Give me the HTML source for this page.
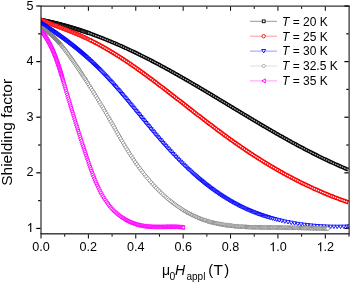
<!DOCTYPE html>
<html><head><meta charset="utf-8"><style>
html,body{margin:0;padding:0;background:#fff;}
svg{display:block;will-change:transform;font-family:"Liberation Sans",sans-serif;}
</style></head><body>
<svg width="350" height="283" viewBox="0 0 350 283">
<rect width="350" height="283" fill="#fff"/>
<defs><clipPath id="c"><rect x="41" y="6" width="308" height="228"/></clipPath></defs>
<g fill="#000"><rect x="40.50" y="234.3" width="1" height="4.2"/><rect x="64.19" y="234.3" width="1" height="2.3"/><rect x="64.19" y="6.6" width="1" height="2.3"/><rect x="87.88" y="234.3" width="1" height="4.2"/><rect x="87.88" y="6.6" width="1" height="4.2"/><rect x="111.58" y="234.3" width="1" height="2.3"/><rect x="111.58" y="6.6" width="1" height="2.3"/><rect x="135.27" y="234.3" width="1" height="4.2"/><rect x="135.27" y="6.6" width="1" height="4.2"/><rect x="158.96" y="234.3" width="1" height="2.3"/><rect x="158.96" y="6.6" width="1" height="2.3"/><rect x="182.65" y="234.3" width="1" height="4.2"/><rect x="182.65" y="6.6" width="1" height="4.2"/><rect x="206.35" y="234.3" width="1" height="2.3"/><rect x="206.35" y="6.6" width="1" height="2.3"/><rect x="230.04" y="234.3" width="1" height="4.2"/><rect x="230.04" y="6.6" width="1" height="4.2"/><rect x="253.73" y="234.3" width="1" height="2.3"/><rect x="253.73" y="6.6" width="1" height="2.3"/><rect x="277.42" y="234.3" width="1" height="4.2"/><rect x="277.42" y="6.6" width="1" height="4.2"/><rect x="301.12" y="234.3" width="1" height="2.3"/><rect x="301.12" y="6.6" width="1" height="2.3"/><rect x="324.81" y="234.3" width="1" height="4.2"/><rect x="324.81" y="6.6" width="1" height="4.2"/><rect x="348.50" y="234.3" width="1" height="2.3"/><rect x="36.30" y="227.84" width="4.2" height="1.2"/><rect x="344.40" y="227.84" width="4.2" height="1.2"/><rect x="38.20" y="200.03" width="2.3" height="1.2"/><rect x="346.30" y="200.03" width="2.3" height="1.2"/><rect x="36.30" y="172.23" width="4.2" height="1.2"/><rect x="344.40" y="172.23" width="4.2" height="1.2"/><rect x="38.20" y="144.42" width="2.3" height="1.2"/><rect x="346.30" y="144.42" width="2.3" height="1.2"/><rect x="36.30" y="116.62" width="4.2" height="1.2"/><rect x="344.40" y="116.62" width="4.2" height="1.2"/><rect x="38.20" y="88.81" width="2.3" height="1.2"/><rect x="346.30" y="88.81" width="2.3" height="1.2"/><rect x="36.30" y="61.01" width="4.2" height="1.2"/><rect x="344.40" y="61.01" width="4.2" height="1.2"/><rect x="38.20" y="33.20" width="2.3" height="1.2"/><rect x="346.30" y="33.20" width="2.3" height="1.2"/><rect x="36.30" y="5.40" width="4.2" height="1.2"/><rect x="344.40" y="5.40" width="4.2" height="1.2"/></g>
<g clip-path="url(#c)">
<g fill="#fff" stroke="#000" stroke-width="0.9"><rect x="39.27" y="18.46" width="2.80" height="2.80"/><rect x="39.86" y="18.58" width="2.80" height="2.80"/><rect x="40.45" y="18.70" width="2.80" height="2.80"/><rect x="41.04" y="18.82" width="2.80" height="2.80"/><rect x="41.64" y="18.94" width="2.80" height="2.80"/><rect x="42.24" y="19.06" width="2.80" height="2.80"/><rect x="42.84" y="19.18" width="2.80" height="2.80"/><rect x="43.44" y="19.31" width="2.80" height="2.80"/><rect x="44.05" y="19.44" width="2.80" height="2.80"/><rect x="44.66" y="19.57" width="2.80" height="2.80"/><rect x="45.27" y="19.70" width="2.80" height="2.80"/><rect x="45.89" y="19.83" width="2.80" height="2.80"/><rect x="46.50" y="19.97" width="2.80" height="2.80"/><rect x="47.12" y="20.10" width="2.80" height="2.80"/><rect x="47.75" y="20.24" width="2.80" height="2.80"/><rect x="48.37" y="20.38" width="2.80" height="2.80"/><rect x="49.00" y="20.53" width="2.80" height="2.80"/><rect x="49.63" y="20.67" width="2.80" height="2.80"/><rect x="50.27" y="20.82" width="2.80" height="2.80"/><rect x="50.91" y="20.97" width="2.80" height="2.80"/><rect x="51.55" y="21.12" width="2.80" height="2.80"/><rect x="52.19" y="21.27" width="2.80" height="2.80"/><rect x="52.84" y="21.42" width="2.80" height="2.80"/><rect x="53.48" y="21.58" width="2.80" height="2.80"/><rect x="54.14" y="21.74" width="2.80" height="2.80"/><rect x="54.79" y="21.90" width="2.80" height="2.80"/><rect x="55.45" y="22.07" width="2.80" height="2.80"/><rect x="56.11" y="22.23" width="2.80" height="2.80"/><rect x="56.77" y="22.40" width="2.80" height="2.80"/><rect x="57.44" y="22.57" width="2.80" height="2.80"/><rect x="58.11" y="22.74" width="2.80" height="2.80"/><rect x="58.78" y="22.92" width="2.80" height="2.80"/><rect x="59.46" y="23.09" width="2.80" height="2.80"/><rect x="60.14" y="23.27" width="2.80" height="2.80"/><rect x="60.82" y="23.45" width="2.80" height="2.80"/><rect x="61.50" y="23.64" width="2.80" height="2.80"/><rect x="62.19" y="23.82" width="2.80" height="2.80"/><rect x="62.88" y="24.01" width="2.80" height="2.80"/><rect x="63.58" y="24.20" width="2.80" height="2.80"/><rect x="64.27" y="24.40" width="2.80" height="2.80"/><rect x="64.97" y="24.59" width="2.80" height="2.80"/><rect x="65.67" y="24.79" width="2.80" height="2.80"/><rect x="66.38" y="24.99" width="2.80" height="2.80"/><rect x="67.09" y="25.19" width="2.80" height="2.80"/><rect x="67.80" y="25.40" width="2.80" height="2.80"/><rect x="68.52" y="25.61" width="2.80" height="2.80"/><rect x="69.23" y="25.82" width="2.80" height="2.80"/><rect x="69.96" y="26.03" width="2.80" height="2.80"/><rect x="70.68" y="26.25" width="2.80" height="2.80"/><rect x="71.41" y="26.46" width="2.80" height="2.80"/><rect x="72.14" y="26.69" width="2.80" height="2.80"/><rect x="72.87" y="26.91" width="2.80" height="2.80"/><rect x="73.61" y="27.14" width="2.80" height="2.80"/><rect x="74.35" y="27.36" width="2.80" height="2.80"/><rect x="75.09" y="27.60" width="2.80" height="2.80"/><rect x="75.84" y="27.83" width="2.80" height="2.80"/><rect x="76.59" y="28.07" width="2.80" height="2.80"/><rect x="77.34" y="28.31" width="2.80" height="2.80"/><rect x="78.09" y="28.55" width="2.80" height="2.80"/><rect x="78.85" y="28.80" width="2.80" height="2.80"/><rect x="79.62" y="29.05" width="2.80" height="2.80"/><rect x="80.41" y="29.31" width="2.80" height="2.80"/><rect x="81.22" y="29.58" width="2.80" height="2.80"/><rect x="82.05" y="29.85" width="2.80" height="2.80"/><rect x="82.91" y="30.14" width="2.80" height="2.80"/><rect x="83.79" y="30.44" width="2.80" height="2.80"/><rect x="84.69" y="30.75" width="2.80" height="2.80"/><rect x="85.62" y="31.07" width="2.80" height="2.80"/><rect x="86.58" y="31.40" width="2.80" height="2.80"/><rect x="87.56" y="31.75" width="2.80" height="2.80"/></g>
<path d="M88.02 32.82 L89.11 33.20 L90.19 33.58 L91.26 33.97 L92.34 34.36 L93.42 34.75 L94.49 35.15 L95.57 35.54 L96.64 35.95 L97.71 36.35 L98.78 36.76 L99.85 37.17 L100.91 37.58 L101.98 37.99 L103.04 38.41 L104.11 38.83 L105.17 39.26 L106.23 39.69 L107.29 40.11 L108.34 40.55 L109.40 40.98 L110.46 41.42 L111.51 41.86 L112.56 42.30 L113.62 42.75 L114.67 43.20 L115.72 43.65 L116.76 44.10 L117.81 44.56 L118.86 45.01 L119.90 45.48 L120.95 45.94 L121.99 46.40 L123.03 46.87 L124.07 47.34 L125.11 47.82 L126.15 48.29 L127.19 48.77 L128.22 49.25 L129.26 49.73 L130.29 50.21 L131.33 50.70 L132.36 51.19 L133.39 51.68 L134.42 52.17 L135.45 52.67 L136.48 53.17 L137.51 53.66 L138.53 54.17 L139.56 54.67 L140.58 55.18 L141.61 55.68 L142.63 56.19 L143.65 56.70 L144.67 57.22 L145.70 57.73 L146.71 58.25 L147.73 58.77 L148.75 59.29 L149.77 59.81 L150.78 60.34 L151.80 60.86 L152.81 61.39 L153.83 61.92 L154.84 62.45 L155.85 62.99 L156.86 63.52 L157.88 64.06 L158.89 64.59 L159.89 65.13 L160.90 65.68 L161.91 66.22 L162.92 66.76 L163.93 67.31 L164.93 67.86 L165.94 68.40 L166.94 68.96 L167.94 69.51 L168.95 70.06 L169.95 70.61 L170.95 71.17 L171.95 71.73 L172.95 72.29 L173.95 72.85 L174.95 73.41 L175.95 73.97 L176.95 74.53 L177.95 75.10 L178.95 75.66 L179.94 76.23 L180.94 76.80 L181.94 77.37 L182.93 77.94 L183.93 78.51 L184.92 79.08 L185.92 79.65 L186.91 80.23 L187.90 80.80 L188.90 81.38 L189.89 81.96 L190.88 82.53 L191.87 83.11 L192.86 83.69 L193.85 84.27 L194.84 84.86 L195.83 85.44 L196.82 86.02 L197.81 86.60 L198.80 87.19 L199.79 87.77 L200.78 88.36 L201.77 88.95 L202.76 89.53 L203.74 90.12 L204.73 90.71 L205.72 91.30 L206.70 91.89 L207.69 92.48 L208.68 93.07 L209.66 93.66 L210.65 94.25 L211.64 94.84 L212.62 95.43 L213.61 96.03 L214.59 96.62 L215.58 97.21 L216.56 97.81 L217.55 98.40 L218.53 98.99 L219.52 99.59 L220.50 100.18 L221.49 100.78 L222.47 101.37 L223.45 101.97 L224.44 102.56 L225.42 103.16 L226.41 103.76 L227.39 104.35 L228.37 104.95 L229.36 105.54 L230.34 106.14 L231.33 106.73 L232.31 107.33 L233.29 107.92 L234.28 108.52 L235.26 109.12 L236.25 109.71 L237.23 110.31 L238.22 110.90 L239.20 111.50 L240.19 112.09 L241.17 112.68 L242.15 113.28 L243.14 113.87 L244.13 114.46 L245.11 115.06 L246.10 115.65 L247.08 116.24 L248.07 116.83 L249.05 117.43 L250.04 118.02 L251.03 118.61 L252.01 119.20 L253.00 119.79 L253.99 120.38 L254.97 120.96 L255.96 121.55 L256.95 122.14 L257.94 122.73 L258.93 123.31 L259.91 123.90 L260.90 124.48 L261.89 125.07 L262.88 125.65 L263.87 126.23 L264.86 126.81 L265.85 127.39 L266.85 127.97 L267.84 128.55 L268.83 129.13 L269.82 129.71 L270.81 130.28 L271.81 130.86 L272.80 131.43 L273.80 132.01 L274.79 132.58 L275.79 133.15 L276.78 133.72 L277.78 134.29 L278.77 134.86 L279.77 135.43 L280.77 135.99 L281.77 136.56 L282.77 137.12 L283.76 137.68 L284.76 138.24 L285.76 138.80 L286.77 139.36 L287.77 139.92 L288.77 140.48 L289.77 141.03 L290.78 141.58 L291.78 142.14 L292.78 142.69 L293.79 143.23 L294.80 143.78 L295.80 144.33 L296.81 144.87 L297.82 145.42 L298.83 145.96 L299.84 146.50 L300.85 147.04 L301.86 147.57 L302.87 148.11 L303.88 148.64 L304.89 149.17 L305.91 149.70 L306.92 150.23 L307.94 150.76 L308.95 151.28 L309.97 151.81 L310.99 152.33 L312.01 152.85 L313.03 153.36 L314.05 153.88 L315.07 154.39 L316.09 154.90 L317.11 155.41 L318.14 155.92 L319.16 156.43 L320.19 156.93 L321.22 157.43 L322.24 157.93 L323.27 158.43 L324.30 158.93 L325.33 159.42 L326.36 159.91 L327.40 160.40 L328.43 160.89 L329.46 161.37 L330.50 161.85 L331.54 162.33 L332.57 162.81 L333.61 163.29 L334.65 163.76 L335.69 164.23 L336.74 164.70 L337.78 165.16 L338.82 165.63 L339.87 166.09 L340.91 166.55 L341.96 167.00 L343.01 167.46 L344.06 167.91 L345.11 168.36 L346.16 168.80 L347.22 169.25 L348.27 169.69" fill="none" stroke="#000" stroke-width="4.0"/>
<path d="M88.02 32.82 L89.11 33.20 L90.19 33.58 L91.26 33.97 L92.34 34.36 L93.42 34.75 L94.49 35.15 L95.57 35.54 L96.64 35.95 L97.71 36.35 L98.78 36.76 L99.85 37.17 L100.91 37.58 L101.98 37.99 L103.04 38.41 L104.11 38.83 L105.17 39.26 L106.23 39.69 L107.29 40.11 L108.34 40.55 L109.40 40.98 L110.46 41.42 L111.51 41.86 L112.56 42.30 L113.62 42.75 L114.67 43.20 L115.72 43.65 L116.76 44.10 L117.81 44.56 L118.86 45.01 L119.90 45.48 L120.95 45.94 L121.99 46.40 L123.03 46.87 L124.07 47.34 L125.11 47.82 L126.15 48.29 L127.19 48.77 L128.22 49.25 L129.26 49.73 L130.29 50.21 L131.33 50.70 L132.36 51.19 L133.39 51.68 L134.42 52.17 L135.45 52.67 L136.48 53.17 L137.51 53.66 L138.53 54.17 L139.56 54.67 L140.58 55.18 L141.61 55.68 L142.63 56.19 L143.65 56.70 L144.67 57.22 L145.70 57.73 L146.71 58.25 L147.73 58.77 L148.75 59.29 L149.77 59.81 L150.78 60.34 L151.80 60.86 L152.81 61.39 L153.83 61.92 L154.84 62.45 L155.85 62.99 L156.86 63.52 L157.88 64.06 L158.89 64.59 L159.89 65.13 L160.90 65.68 L161.91 66.22 L162.92 66.76 L163.93 67.31 L164.93 67.86 L165.94 68.40 L166.94 68.96 L167.94 69.51 L168.95 70.06 L169.95 70.61 L170.95 71.17 L171.95 71.73 L172.95 72.29 L173.95 72.85 L174.95 73.41 L175.95 73.97 L176.95 74.53 L177.95 75.10 L178.95 75.66 L179.94 76.23 L180.94 76.80 L181.94 77.37 L182.93 77.94 L183.93 78.51 L184.92 79.08 L185.92 79.65 L186.91 80.23 L187.90 80.80 L188.90 81.38 L189.89 81.96 L190.88 82.53 L191.87 83.11 L192.86 83.69 L193.85 84.27 L194.84 84.86 L195.83 85.44 L196.82 86.02 L197.81 86.60 L198.80 87.19 L199.79 87.77 L200.78 88.36 L201.77 88.95 L202.76 89.53 L203.74 90.12 L204.73 90.71 L205.72 91.30 L206.70 91.89 L207.69 92.48 L208.68 93.07 L209.66 93.66 L210.65 94.25 L211.64 94.84 L212.62 95.43 L213.61 96.03 L214.59 96.62 L215.58 97.21 L216.56 97.81 L217.55 98.40 L218.53 98.99 L219.52 99.59 L220.50 100.18 L221.49 100.78 L222.47 101.37 L223.45 101.97 L224.44 102.56 L225.42 103.16 L226.41 103.76 L227.39 104.35 L228.37 104.95 L229.36 105.54 L230.34 106.14 L231.33 106.73 L232.31 107.33 L233.29 107.92 L234.28 108.52 L235.26 109.12 L236.25 109.71 L237.23 110.31 L238.22 110.90 L239.20 111.50 L240.19 112.09 L241.17 112.68 L242.15 113.28 L243.14 113.87 L244.13 114.46 L245.11 115.06 L246.10 115.65 L247.08 116.24 L248.07 116.83 L249.05 117.43 L250.04 118.02 L251.03 118.61 L252.01 119.20 L253.00 119.79 L253.99 120.38 L254.97 120.96 L255.96 121.55 L256.95 122.14 L257.94 122.73 L258.93 123.31 L259.91 123.90 L260.90 124.48 L261.89 125.07 L262.88 125.65 L263.87 126.23 L264.86 126.81 L265.85 127.39 L266.85 127.97 L267.84 128.55 L268.83 129.13 L269.82 129.71 L270.81 130.28 L271.81 130.86 L272.80 131.43 L273.80 132.01 L274.79 132.58 L275.79 133.15 L276.78 133.72 L277.78 134.29 L278.77 134.86 L279.77 135.43 L280.77 135.99 L281.77 136.56 L282.77 137.12 L283.76 137.68 L284.76 138.24 L285.76 138.80 L286.77 139.36 L287.77 139.92 L288.77 140.48 L289.77 141.03 L290.78 141.58 L291.78 142.14 L292.78 142.69 L293.79 143.23 L294.80 143.78 L295.80 144.33 L296.81 144.87 L297.82 145.42 L298.83 145.96 L299.84 146.50 L300.85 147.04 L301.86 147.57 L302.87 148.11 L303.88 148.64 L304.89 149.17 L305.91 149.70 L306.92 150.23 L307.94 150.76 L308.95 151.28 L309.97 151.81 L310.99 152.33 L312.01 152.85 L313.03 153.36 L314.05 153.88 L315.07 154.39 L316.09 154.90 L317.11 155.41 L318.14 155.92 L319.16 156.43 L320.19 156.93 L321.22 157.43 L322.24 157.93 L323.27 158.43 L324.30 158.93 L325.33 159.42 L326.36 159.91 L327.40 160.40 L328.43 160.89 L329.46 161.37 L330.50 161.85 L331.54 162.33 L332.57 162.81 L333.61 163.29 L334.65 163.76 L335.69 164.23 L336.74 164.70 L337.78 165.16 L338.82 165.63 L339.87 166.09 L340.91 166.55 L341.96 167.00 L343.01 167.46 L344.06 167.91 L345.11 168.36 L346.16 168.80 L347.22 169.25 L348.27 169.69" fill="none" stroke="#b0b0b0" stroke-width="1.3" stroke-dasharray="1.6 0.9"/>
<g fill="#fff" stroke="#f00" stroke-width="0.9"><circle cx="40.70" cy="19.62" r="1.70"/><circle cx="41.25" cy="19.86" r="1.70"/><circle cx="41.80" cy="20.10" r="1.70"/><circle cx="42.36" cy="20.34" r="1.70"/><circle cx="42.91" cy="20.59" r="1.70"/><circle cx="43.47" cy="20.83" r="1.70"/><circle cx="44.03" cy="21.07" r="1.70"/><circle cx="44.60" cy="21.31" r="1.70"/><circle cx="45.17" cy="21.54" r="1.70"/><circle cx="45.74" cy="21.78" r="1.70"/><circle cx="46.31" cy="22.02" r="1.70"/><circle cx="46.89" cy="22.26" r="1.70"/><circle cx="47.47" cy="22.50" r="1.70"/><circle cx="48.05" cy="22.74" r="1.70"/><circle cx="48.64" cy="22.97" r="1.70"/><circle cx="49.22" cy="23.21" r="1.70"/><circle cx="49.82" cy="23.45" r="1.70"/><circle cx="50.41" cy="23.69" r="1.70"/><circle cx="51.01" cy="23.92" r="1.70"/><circle cx="51.61" cy="24.16" r="1.70"/><circle cx="52.21" cy="24.40" r="1.70"/><circle cx="52.82" cy="24.64" r="1.70"/><circle cx="53.43" cy="24.88" r="1.70"/><circle cx="54.04" cy="25.11" r="1.70"/><circle cx="54.65" cy="25.35" r="1.70"/><circle cx="55.27" cy="25.59" r="1.70"/><circle cx="55.89" cy="25.83" r="1.70"/><circle cx="56.51" cy="26.07" r="1.70"/><circle cx="57.14" cy="26.31" r="1.70"/><circle cx="57.77" cy="26.55" r="1.70"/><circle cx="58.40" cy="26.80" r="1.70"/><circle cx="59.03" cy="27.04" r="1.70"/><circle cx="59.67" cy="27.28" r="1.70"/><circle cx="60.31" cy="27.53" r="1.70"/><circle cx="60.95" cy="27.77" r="1.70"/><circle cx="61.60" cy="28.02" r="1.70"/><circle cx="62.24" cy="28.27" r="1.70"/><circle cx="62.89" cy="28.52" r="1.70"/><circle cx="63.55" cy="28.77" r="1.70"/><circle cx="64.20" cy="29.02" r="1.70"/><circle cx="64.86" cy="29.27" r="1.70"/><circle cx="65.52" cy="29.52" r="1.70"/><circle cx="66.19" cy="29.78" r="1.70"/><circle cx="66.85" cy="30.04" r="1.70"/><circle cx="67.52" cy="30.30" r="1.70"/><circle cx="68.19" cy="30.56" r="1.70"/><circle cx="68.87" cy="30.82" r="1.70"/><circle cx="69.55" cy="31.09" r="1.70"/><circle cx="70.22" cy="31.35" r="1.70"/><circle cx="70.91" cy="31.62" r="1.70"/><circle cx="71.59" cy="31.89" r="1.70"/><circle cx="72.28" cy="32.17" r="1.70"/><circle cx="72.96" cy="32.45" r="1.70"/><circle cx="73.66" cy="32.72" r="1.70"/><circle cx="74.35" cy="33.01" r="1.70"/><circle cx="75.04" cy="33.29" r="1.70"/><circle cx="75.74" cy="33.58" r="1.70"/><circle cx="76.44" cy="33.87" r="1.70"/><circle cx="77.14" cy="34.16" r="1.70"/><circle cx="77.85" cy="34.46" r="1.70"/><circle cx="78.56" cy="34.76" r="1.70"/><circle cx="79.26" cy="35.06" r="1.70"/><circle cx="79.97" cy="35.37" r="1.70"/><circle cx="80.69" cy="35.68" r="1.70"/><circle cx="81.40" cy="36.00" r="1.70"/><circle cx="82.12" cy="36.32" r="1.70"/><circle cx="82.83" cy="36.64" r="1.70"/><circle cx="83.55" cy="36.97" r="1.70"/><circle cx="84.27" cy="37.30" r="1.70"/><circle cx="85.00" cy="37.63" r="1.70"/><circle cx="85.72" cy="37.97" r="1.70"/><circle cx="86.49" cy="38.33" r="1.70"/><circle cx="87.29" cy="38.71" r="1.70"/><circle cx="88.13" cy="39.11" r="1.70"/><circle cx="89.02" cy="39.54" r="1.70"/><circle cx="89.96" cy="40.00" r="1.70"/><circle cx="90.94" cy="40.49" r="1.70"/></g>
<path d="M90.02 40.03 L91.10 40.56 L92.17 41.10 L93.24 41.64 L94.30 42.19 L95.36 42.74 L96.42 43.29 L97.48 43.85 L98.54 44.42 L99.59 44.99 L100.64 45.56 L101.69 46.14 L102.74 46.72 L103.78 47.31 L104.82 47.90 L105.86 48.49 L106.90 49.09 L107.93 49.70 L108.96 50.31 L109.99 50.92 L111.02 51.53 L112.05 52.15 L113.07 52.78 L114.10 53.40 L115.12 54.03 L116.13 54.67 L117.15 55.31 L118.17 55.95 L119.18 56.59 L120.19 57.24 L121.20 57.89 L122.20 58.54 L123.21 59.20 L124.21 59.86 L125.22 60.53 L126.22 61.19 L127.21 61.86 L128.21 62.53 L129.21 63.21 L130.20 63.89 L131.19 64.57 L132.18 65.25 L133.17 65.94 L134.16 66.62 L135.15 67.31 L136.13 68.01 L137.11 68.70 L138.10 69.40 L139.08 70.10 L140.06 70.80 L141.04 71.50 L142.01 72.21 L142.99 72.91 L143.96 73.62 L144.94 74.33 L145.91 75.05 L146.88 75.76 L147.85 76.48 L148.82 77.19 L149.79 77.91 L150.75 78.63 L151.72 79.35 L152.68 80.08 L153.65 80.80 L154.61 81.53 L155.57 82.25 L156.54 82.98 L157.50 83.71 L158.46 84.44 L159.42 85.17 L160.38 85.90 L161.33 86.63 L162.29 87.36 L163.25 88.09 L164.20 88.82 L165.16 89.56 L166.11 90.29 L167.07 91.03 L168.02 91.76 L168.97 92.50 L169.93 93.24 L170.88 93.97 L171.83 94.71 L172.78 95.45 L173.73 96.18 L174.69 96.92 L175.64 97.66 L176.59 98.40 L177.54 99.14 L178.49 99.88 L179.44 100.62 L180.38 101.35 L181.33 102.09 L182.28 102.83 L183.23 103.57 L184.18 104.31 L185.13 105.05 L186.08 105.79 L187.03 106.53 L187.98 107.27 L188.92 108.01 L189.87 108.74 L190.82 109.48 L191.77 110.22 L192.72 110.96 L193.67 111.69 L194.62 112.43 L195.57 113.17 L196.52 113.90 L197.47 114.64 L198.42 115.37 L199.37 116.11 L200.32 116.84 L201.27 117.58 L202.23 118.31 L203.18 119.04 L204.13 119.77 L205.08 120.50 L206.04 121.23 L206.99 121.96 L207.95 122.69 L208.90 123.42 L209.86 124.15 L210.81 124.87 L211.77 125.60 L212.73 126.32 L213.69 127.04 L214.65 127.77 L215.61 128.49 L216.57 129.21 L217.53 129.93 L218.49 130.64 L219.46 131.36 L220.42 132.08 L221.38 132.79 L222.35 133.50 L223.32 134.21 L224.28 134.92 L225.25 135.63 L226.22 136.34 L227.19 137.05 L228.17 137.75 L229.14 138.46 L230.11 139.16 L231.09 139.86 L232.06 140.56 L233.04 141.25 L234.02 141.95 L235.00 142.64 L235.98 143.33 L236.96 144.03 L237.95 144.71 L238.93 145.40 L239.92 146.09 L240.91 146.77 L241.90 147.45 L242.89 148.13 L243.88 148.81 L244.87 149.48 L245.87 150.16 L246.87 150.83 L247.86 151.50 L248.86 152.16 L249.87 152.83 L250.87 153.49 L251.87 154.15 L252.88 154.81 L253.89 155.47 L254.90 156.12 L255.91 156.78 L256.92 157.43 L257.94 158.07 L258.95 158.72 L259.97 159.36 L260.99 160.00 L262.01 160.64 L263.03 161.28 L264.06 161.91 L265.08 162.54 L266.11 163.17 L267.14 163.80 L268.17 164.42 L269.20 165.04 L270.24 165.66 L271.27 166.28 L272.31 166.89 L273.35 167.50 L274.39 168.11 L275.43 168.71 L276.47 169.32 L277.52 169.92 L278.56 170.52 L279.61 171.11 L280.66 171.70 L281.71 172.29 L282.76 172.88 L283.81 173.46 L284.87 174.05 L285.93 174.63 L286.98 175.20 L288.04 175.77 L289.10 176.34 L290.17 176.91 L291.23 177.48 L292.30 178.04 L293.36 178.60 L294.43 179.15 L295.50 179.70 L296.57 180.25 L297.64 180.80 L298.72 181.34 L299.79 181.88 L300.87 182.42 L301.95 182.96 L303.03 183.49 L304.11 184.02 L305.19 184.54 L306.28 185.06 L307.36 185.58 L308.45 186.10 L309.54 186.61 L310.63 187.12 L311.72 187.62 L312.81 188.13 L313.91 188.63 L315.00 189.12 L316.10 189.61 L317.19 190.10 L318.29 190.59 L319.39 191.07 L320.50 191.55 L321.60 192.03 L322.71 192.50 L323.81 192.97 L324.92 193.43 L326.03 193.89 L327.14 194.35 L328.25 194.81 L329.36 195.26 L330.48 195.70 L331.59 196.15 L332.71 196.59 L333.83 197.02 L334.94 197.46 L336.07 197.89 L337.19 198.31 L338.31 198.73 L339.43 199.15 L340.56 199.57 L341.69 199.98 L342.82 200.38 L343.95 200.79 L345.08 201.18 L346.21 201.58 L347.34 201.97 L348.48 202.36" fill="none" stroke="#f00" stroke-width="4.4"/>
<path d="M90.02 40.03 L91.10 40.56 L92.17 41.10 L93.24 41.64 L94.30 42.19 L95.36 42.74 L96.42 43.29 L97.48 43.85 L98.54 44.42 L99.59 44.99 L100.64 45.56 L101.69 46.14 L102.74 46.72 L103.78 47.31 L104.82 47.90 L105.86 48.49 L106.90 49.09 L107.93 49.70 L108.96 50.31 L109.99 50.92 L111.02 51.53 L112.05 52.15 L113.07 52.78 L114.10 53.40 L115.12 54.03 L116.13 54.67 L117.15 55.31 L118.17 55.95 L119.18 56.59 L120.19 57.24 L121.20 57.89 L122.20 58.54 L123.21 59.20 L124.21 59.86 L125.22 60.53 L126.22 61.19 L127.21 61.86 L128.21 62.53 L129.21 63.21 L130.20 63.89 L131.19 64.57 L132.18 65.25 L133.17 65.94 L134.16 66.62 L135.15 67.31 L136.13 68.01 L137.11 68.70 L138.10 69.40 L139.08 70.10 L140.06 70.80 L141.04 71.50 L142.01 72.21 L142.99 72.91 L143.96 73.62 L144.94 74.33 L145.91 75.05 L146.88 75.76 L147.85 76.48 L148.82 77.19 L149.79 77.91 L150.75 78.63 L151.72 79.35 L152.68 80.08 L153.65 80.80 L154.61 81.53 L155.57 82.25 L156.54 82.98 L157.50 83.71 L158.46 84.44 L159.42 85.17 L160.38 85.90 L161.33 86.63 L162.29 87.36 L163.25 88.09 L164.20 88.82 L165.16 89.56 L166.11 90.29 L167.07 91.03 L168.02 91.76 L168.97 92.50 L169.93 93.24 L170.88 93.97 L171.83 94.71 L172.78 95.45 L173.73 96.18 L174.69 96.92 L175.64 97.66 L176.59 98.40 L177.54 99.14 L178.49 99.88 L179.44 100.62 L180.38 101.35 L181.33 102.09 L182.28 102.83 L183.23 103.57 L184.18 104.31 L185.13 105.05 L186.08 105.79 L187.03 106.53 L187.98 107.27 L188.92 108.01 L189.87 108.74 L190.82 109.48 L191.77 110.22 L192.72 110.96 L193.67 111.69 L194.62 112.43 L195.57 113.17 L196.52 113.90 L197.47 114.64 L198.42 115.37 L199.37 116.11 L200.32 116.84 L201.27 117.58 L202.23 118.31 L203.18 119.04 L204.13 119.77 L205.08 120.50 L206.04 121.23 L206.99 121.96 L207.95 122.69 L208.90 123.42 L209.86 124.15 L210.81 124.87 L211.77 125.60 L212.73 126.32 L213.69 127.04 L214.65 127.77 L215.61 128.49 L216.57 129.21 L217.53 129.93 L218.49 130.64 L219.46 131.36 L220.42 132.08 L221.38 132.79 L222.35 133.50 L223.32 134.21 L224.28 134.92 L225.25 135.63 L226.22 136.34 L227.19 137.05 L228.17 137.75 L229.14 138.46 L230.11 139.16 L231.09 139.86 L232.06 140.56 L233.04 141.25 L234.02 141.95 L235.00 142.64 L235.98 143.33 L236.96 144.03 L237.95 144.71 L238.93 145.40 L239.92 146.09 L240.91 146.77 L241.90 147.45 L242.89 148.13 L243.88 148.81 L244.87 149.48 L245.87 150.16 L246.87 150.83 L247.86 151.50 L248.86 152.16 L249.87 152.83 L250.87 153.49 L251.87 154.15 L252.88 154.81 L253.89 155.47 L254.90 156.12 L255.91 156.78 L256.92 157.43 L257.94 158.07 L258.95 158.72 L259.97 159.36 L260.99 160.00 L262.01 160.64 L263.03 161.28 L264.06 161.91 L265.08 162.54 L266.11 163.17 L267.14 163.80 L268.17 164.42 L269.20 165.04 L270.24 165.66 L271.27 166.28 L272.31 166.89 L273.35 167.50 L274.39 168.11 L275.43 168.71 L276.47 169.32 L277.52 169.92 L278.56 170.52 L279.61 171.11 L280.66 171.70 L281.71 172.29 L282.76 172.88 L283.81 173.46 L284.87 174.05 L285.93 174.63 L286.98 175.20 L288.04 175.77 L289.10 176.34 L290.17 176.91 L291.23 177.48 L292.30 178.04 L293.36 178.60 L294.43 179.15 L295.50 179.70 L296.57 180.25 L297.64 180.80 L298.72 181.34 L299.79 181.88 L300.87 182.42 L301.95 182.96 L303.03 183.49 L304.11 184.02 L305.19 184.54 L306.28 185.06 L307.36 185.58 L308.45 186.10 L309.54 186.61 L310.63 187.12 L311.72 187.62 L312.81 188.13 L313.91 188.63 L315.00 189.12 L316.10 189.61 L317.19 190.10 L318.29 190.59 L319.39 191.07 L320.50 191.55 L321.60 192.03 L322.71 192.50 L323.81 192.97 L324.92 193.43 L326.03 193.89 L327.14 194.35 L328.25 194.81 L329.36 195.26 L330.48 195.70 L331.59 196.15 L332.71 196.59 L333.83 197.02 L334.94 197.46 L336.07 197.89 L337.19 198.31 L338.31 198.73 L339.43 199.15 L340.56 199.57 L341.69 199.98 L342.82 200.38 L343.95 200.79 L345.08 201.18 L346.21 201.58 L347.34 201.97 L348.48 202.36" fill="none" stroke="#fff" stroke-width="1.3" stroke-dasharray="1.5 0.8"/>
<g fill="#fff" stroke="#00f" stroke-width="0.9">
<path d="M38.41 21.62H42.41L40.41 25.02Z"/>
<path d="M38.91 21.94H42.91L40.91 25.34Z"/>
<path d="M39.42 22.26H43.42L41.42 25.66Z"/>
<path d="M39.93 22.58H43.93L41.93 25.98Z"/>
<path d="M40.44 22.90H44.44L42.44 26.30Z"/>
<path d="M40.96 23.23H44.96L42.96 26.63Z"/>
<path d="M41.47 23.55H45.47L43.47 26.95Z"/>
<path d="M41.98 23.88H45.98L43.98 27.28Z"/>
<path d="M42.50 24.21H46.50L44.50 27.61Z"/>
<path d="M43.02 24.55H47.02L45.02 27.95Z"/>
<path d="M43.54 24.88H47.54L45.54 28.28Z"/>
<path d="M44.06 25.22H48.06L46.06 28.62Z"/>
<path d="M44.58 25.56H48.58L46.58 28.96Z"/>
<path d="M45.11 25.90H49.11L47.11 29.30Z"/>
<path d="M45.63 26.25H49.63L47.63 29.65Z"/>
<path d="M46.16 26.59H50.16L48.16 29.99Z"/>
<path d="M46.69 26.94H50.69L48.69 30.34Z"/>
<path d="M47.21 27.29H51.21L49.21 30.69Z"/>
<path d="M47.75 27.64H51.75L49.75 31.04Z"/>
<path d="M48.28 28.00H52.28L50.28 31.40Z"/>
<path d="M48.81 28.35H52.81L50.81 31.75Z"/>
<path d="M49.35 28.71H53.35L51.35 32.11Z"/>
<path d="M49.88 29.08H53.88L51.88 32.48Z"/>
<path d="M50.42 29.44H54.42L52.42 32.84Z"/>
<path d="M50.96 29.81H54.96L52.96 33.21Z"/>
<path d="M51.50 30.18H55.50L53.50 33.58Z"/>
<path d="M52.04 30.55H56.04L54.04 33.95Z"/>
<path d="M52.59 30.92H56.59L54.59 34.32Z"/>
<path d="M53.13 31.30H57.13L55.13 34.70Z"/>
<path d="M53.68 31.67H57.68L55.68 35.07Z"/>
<path d="M54.22 32.05H58.22L56.22 35.45Z"/>
<path d="M54.77 32.44H58.77L56.77 35.84Z"/>
<path d="M55.32 32.82H59.32L57.32 36.22Z"/>
<path d="M55.87 33.21H59.87L57.87 36.61Z"/>
<path d="M56.43 33.60H60.43L58.43 37.00Z"/>
<path d="M56.98 33.99H60.98L58.98 37.39Z"/>
<path d="M57.54 34.39H61.54L59.54 37.79Z"/>
<path d="M58.09 34.79H62.09L60.09 38.19Z"/>
<path d="M58.65 35.19H62.65L60.65 38.59Z"/>
<path d="M59.21 35.59H63.21L61.21 38.99Z"/>
<path d="M59.77 36.00H63.77L61.77 39.40Z"/>
<path d="M60.33 36.41H64.33L62.33 39.81Z"/>
<path d="M60.89 36.82H64.89L62.89 40.22Z"/>
<path d="M61.46 37.23H65.46L63.46 40.63Z"/>
<path d="M62.02 37.65H66.02L64.02 41.05Z"/>
<path d="M62.59 38.07H66.59L64.59 41.47Z"/>
<path d="M63.16 38.49H67.16L65.16 41.89Z"/>
<path d="M63.73 38.91H67.73L65.73 42.31Z"/>
<path d="M64.30 39.34H68.30L66.30 42.74Z"/>
<path d="M64.87 39.77H68.87L66.87 43.17Z"/>
<path d="M65.44 40.20H69.44L67.44 43.60Z"/>
<path d="M66.01 40.64H70.01L68.01 44.04Z"/>
<path d="M66.59 41.08H70.59L68.59 44.48Z"/>
<path d="M67.16 41.52H71.16L69.16 44.92Z"/>
<path d="M67.74 41.96H71.74L69.74 45.36Z"/>
<path d="M68.32 42.41H72.32L70.32 45.81Z"/>
<path d="M68.90 42.86H72.90L70.90 46.26Z"/>
<path d="M69.48 43.31H73.48L71.48 46.71Z"/>
<path d="M70.06 43.77H74.06L72.06 47.17Z"/>
<path d="M70.64 44.23H74.64L72.64 47.63Z"/>
<path d="M71.23 44.69H75.23L73.23 48.09Z"/>
<path d="M71.81 45.15H75.81L73.81 48.55Z"/>
<path d="M72.40 45.62H76.40L74.40 49.02Z"/>
<path d="M72.98 46.09H76.98L74.98 49.49Z"/>
<path d="M73.57 46.56H77.57L75.57 49.96Z"/>
<path d="M74.16 47.04H78.16L76.16 50.44Z"/>
<path d="M74.75 47.52H78.75L76.75 50.92Z"/>
<path d="M75.34 48.00H79.34L77.34 51.40Z"/>
<path d="M75.93 48.49H79.93L77.93 51.89Z"/>
<path d="M76.52 48.98H80.52L78.52 52.38Z"/>
<path d="M77.11 49.47H81.11L79.11 52.87Z"/>
<path d="M77.71 49.96H81.71L79.71 53.36Z"/>
<path d="M78.30 50.46H82.30L80.30 53.86Z"/>
<path d="M78.90 50.96H82.90L80.90 54.36Z"/>
<path d="M79.49 51.47H83.49L81.49 54.87Z"/>
<path d="M80.09 51.98H84.09L82.09 55.38Z"/>
<path d="M80.69 52.49H84.69L82.69 55.89Z"/>
<path d="M81.29 53.00H85.29L83.29 56.40Z"/>
<path d="M81.89 53.52H85.89L83.89 56.92Z"/>
<path d="M82.49 54.04H86.49L84.49 57.44Z"/>
<path d="M83.09 54.57H87.09L85.09 57.97Z"/>
<path d="M83.69 55.10H87.69L85.69 58.50Z"/>
<path d="M84.32 55.65H88.32L86.32 59.05Z"/>
<path d="M84.97 56.23H88.97L86.97 59.63Z"/>
<path d="M85.65 56.83H89.65L87.65 60.23Z"/>
<path d="M86.35 57.46H90.35L88.35 60.86Z"/>
<path d="M87.07 58.12H91.07L89.07 61.52Z"/>
<path d="M87.82 58.80H91.82L89.82 62.20Z"/>
<path d="M88.60 59.52H92.60L90.60 62.92Z"/>
<path d="M89.41 60.26H93.41L91.41 63.66Z"/>
<path d="M90.25 61.04H94.25L92.25 64.44Z"/>
<path d="M91.11 61.85H95.11L93.11 65.25Z"/>
<path d="M92.01 62.70H96.01L94.01 66.10Z"/>
<path d="M92.93 63.59H96.93L94.93 66.99Z"/>
<path d="M93.89 64.51H97.89L95.89 67.91Z"/>
<path d="M94.88 65.47H98.88L96.88 68.87Z"/>
<path d="M95.90 66.48H99.90L97.90 69.88Z"/>
<path d="M96.96 67.52H100.96L98.96 70.92Z"/>
<path d="M98.05 68.62H102.05L100.05 72.02Z"/>
<path d="M99.17 69.75H103.17L101.17 73.15Z"/>
<path d="M100.30 70.91H104.30L102.30 74.31Z"/>
<path d="M101.43 72.07H105.43L103.43 75.47Z"/>
<path d="M102.56 73.25H106.56L104.56 76.65Z"/>
<path d="M103.70 74.44H107.70L105.70 77.84Z"/>
<path d="M104.83 75.65H108.83L106.83 79.05Z"/>
<path d="M105.97 76.87H109.97L107.97 80.27Z"/>
<path d="M107.11 78.10H111.11L109.11 81.50Z"/>
<path d="M108.26 79.34H112.26L110.26 82.74Z"/>
<path d="M109.41 80.60H113.41L111.41 84.00Z"/>
<path d="M110.56 81.87H114.56L112.56 85.27Z"/>
<path d="M111.71 83.16H115.71L113.71 86.56Z"/>
<path d="M112.86 84.45H116.86L114.86 87.85Z"/>
<path d="M114.02 85.76H118.02L116.02 89.16Z"/>
<path d="M115.19 87.09H119.19L117.19 90.49Z"/>
<path d="M116.35 88.42H120.35L118.35 91.82Z"/>
<path d="M117.52 89.77H121.52L119.52 93.17Z"/>
<path d="M118.69 91.13H122.69L120.69 94.53Z"/>
<path d="M119.87 92.50H123.87L121.87 95.90Z"/>
<path d="M121.04 93.87H125.04L123.04 97.27Z"/>
<path d="M122.22 95.26H126.22L124.22 98.66Z"/>
<path d="M123.40 96.66H127.40L125.40 100.06Z"/>
<path d="M124.59 98.06H128.59L126.59 101.46Z"/>
<path d="M125.77 99.47H129.77L127.77 102.87Z"/>
<path d="M126.96 100.90H130.96L128.96 104.30Z"/>
<path d="M128.15 102.32H132.15L130.15 105.72Z"/>
<path d="M129.34 103.76H133.34L131.34 107.16Z"/>
<path d="M130.54 105.20H134.54L132.54 108.60Z"/>
<path d="M131.74 106.66H135.74L133.74 110.06Z"/>
<path d="M132.94 108.11H136.94L134.94 111.51Z"/>
<path d="M134.15 109.58H138.15L136.15 112.98Z"/>
<path d="M135.37 111.05H139.37L137.37 114.45Z"/>
<path d="M136.58 112.53H140.58L138.58 115.93Z"/>
<path d="M137.81 114.02H141.81L139.81 117.42Z"/>
<path d="M139.04 115.51H143.04L141.04 118.91Z"/>
<path d="M140.27 117.01H144.27L142.27 120.41Z"/>
<path d="M141.51 118.51H145.51L143.51 121.91Z"/>
<path d="M142.76 120.02H146.76L144.76 123.42Z"/>
<path d="M144.01 121.53H148.01L146.01 124.93Z"/>
<path d="M145.27 123.05H149.27L147.27 126.45Z"/>
<path d="M146.54 124.57H150.54L148.54 127.97Z"/>
<path d="M147.81 126.10H151.81L149.81 129.50Z"/>
<path d="M149.09 127.63H153.09L151.09 131.03Z"/>
<path d="M150.39 129.17H154.39L152.39 132.57Z"/>
<path d="M151.69 130.71H155.69L153.69 134.11Z"/>
<path d="M153.00 132.25H157.00L155.00 135.65Z"/>
<path d="M154.32 133.80H158.32L156.32 137.20Z"/>
<path d="M155.65 135.35H159.65L157.65 138.75Z"/>
<path d="M156.99 136.90H160.99L158.99 140.30Z"/>
<path d="M158.34 138.46H162.34L160.34 141.86Z"/>
<path d="M159.70 140.01H163.70L161.70 143.41Z"/>
<path d="M161.08 141.57H165.08L163.08 144.97Z"/>
<path d="M162.46 143.13H166.46L164.46 146.53Z"/>
<path d="M163.86 144.69H167.86L165.86 148.09Z"/>
<path d="M165.28 146.25H169.28L167.28 149.65Z"/>
<path d="M166.70 147.81H170.70L168.70 151.21Z"/>
<path d="M168.14 149.38H172.14L170.14 152.78Z"/>
<path d="M169.60 150.94H173.60L171.60 154.34Z"/>
<path d="M171.07 152.50H175.07L173.07 155.90Z"/>
<path d="M172.55 154.06H176.55L174.55 157.46Z"/>
<path d="M174.05 155.62H178.05L176.05 159.02Z"/>
<path d="M175.57 157.18H179.57L177.57 160.58Z"/>
<path d="M177.10 158.73H181.10L179.10 162.13Z"/>
<path d="M178.65 160.28H182.65L180.65 163.68Z"/>
<path d="M180.19 161.81H184.19L182.19 165.21Z"/>
<path d="M181.70 163.28H185.70L183.70 166.68Z"/>
<path d="M183.16 164.70H187.16L185.16 168.10Z"/>
<path d="M184.58 166.05H188.58L186.58 169.45Z"/>
<path d="M185.97 167.36H189.97L187.97 170.76Z"/>
<path d="M187.31 168.61H191.31L189.31 172.01Z"/>
<path d="M188.62 169.82H192.62L190.62 173.22Z"/>
<path d="M189.90 170.98H193.90L191.90 174.38Z"/>
<path d="M191.14 172.09H195.14L193.14 175.49Z"/>
<path d="M192.34 173.16H196.34L194.34 176.56Z"/>
<path d="M193.51 174.19H197.51L195.51 177.59Z"/>
<path d="M194.64 175.17H198.64L196.64 178.57Z"/>
<path d="M195.74 176.12H199.74L197.74 179.52Z"/>
<path d="M196.81 177.03H200.81L198.81 180.43Z"/>
<path d="M197.85 177.90H201.85L199.85 181.30Z"/>
<path d="M198.85 178.73H202.85L200.85 182.13Z"/>
<path d="M199.85 179.56H203.85L201.85 182.96Z"/>
<path d="M200.86 180.38H204.86L202.86 183.78Z"/>
<path d="M201.87 181.20H205.87L203.87 184.60Z"/>
<path d="M202.89 182.01H206.89L204.89 185.41Z"/>
<path d="M203.91 182.81H207.91L205.91 186.21Z"/>
<path d="M204.93 183.61H208.93L206.93 187.01Z"/>
<path d="M205.96 184.41H209.96L207.96 187.81Z"/>
<path d="M207.00 185.20H211.00L209.00 188.60Z"/>
<path d="M208.03 185.98H212.03L210.03 189.38Z"/>
<path d="M209.08 186.76H213.08L211.08 190.16Z"/>
<path d="M210.12 187.53H214.12L212.12 190.93Z"/>
<path d="M211.17 188.29H215.17L213.17 191.69Z"/>
<path d="M212.23 189.05H216.23L214.23 192.45Z"/>
<path d="M213.29 189.80H217.29L215.29 193.20Z"/>
<path d="M214.36 190.55H218.36L216.36 193.95Z"/>
<path d="M215.42 191.29H219.42L217.42 194.69Z"/>
<path d="M216.50 192.02H220.50L218.50 195.42Z"/>
<path d="M217.58 192.75H221.58L219.58 196.15Z"/>
<path d="M218.66 193.47H222.66L220.66 196.87Z"/>
<path d="M219.75 194.18H223.75L221.75 197.58Z"/>
<path d="M220.84 194.88H224.84L222.84 198.28Z"/>
<path d="M221.94 195.58H225.94L223.94 198.98Z"/>
<path d="M223.04 196.27H227.04L225.04 199.67Z"/>
<path d="M224.14 196.95H228.14L226.14 200.35Z"/>
<path d="M225.26 197.63H229.26L227.26 201.03Z"/>
<path d="M226.37 198.30H230.37L228.37 201.70Z"/>
<path d="M227.49 198.96H231.49L229.49 202.36Z"/>
<path d="M228.62 199.61H232.62L230.62 203.01Z"/>
<path d="M229.74 200.25H233.74L231.74 203.65Z"/>
<path d="M230.88 200.89H234.88L232.88 204.29Z"/>
<path d="M232.02 201.52H236.02L234.02 204.92Z"/>
<path d="M233.16 202.14H237.16L235.16 205.54Z"/>
<path d="M234.31 202.75H238.31L236.31 206.15Z"/>
<path d="M235.46 203.35H239.46L237.46 206.75Z"/>
<path d="M236.61 203.95H240.61L238.61 207.35Z"/>
<path d="M237.77 204.53H241.77L239.77 207.93Z"/>
<path d="M238.94 205.11H242.94L240.94 208.51Z"/>
<path d="M240.11 205.68H244.11L242.11 209.08Z"/>
<path d="M241.28 206.24H245.28L243.28 209.64Z"/>
<path d="M242.46 206.79H246.46L244.46 210.19Z"/>
<path d="M243.64 207.33H247.64L245.64 210.73Z"/>
<path d="M244.83 207.86H248.83L246.83 211.26Z"/>
<path d="M246.02 208.38H250.02L248.02 211.78Z"/>
<path d="M247.21 208.89H251.21L249.21 212.29Z"/>
<path d="M248.41 209.40H252.41L250.41 212.80Z"/>
<path d="M249.61 209.89H253.61L251.61 213.29Z"/>
<path d="M250.82 210.38H254.82L252.82 213.78Z"/>
<path d="M252.03 210.85H256.03L254.03 214.25Z"/>
<path d="M253.24 211.32H257.24L255.24 214.72Z"/>
<path d="M254.46 211.78H258.46L256.46 215.18Z"/>
<path d="M255.68 212.23H259.68L257.68 215.63Z"/>
<path d="M256.90 212.67H260.90L258.90 216.07Z"/>
<path d="M258.13 213.10H262.13L260.13 216.50Z"/>
<path d="M259.36 213.53H263.36L261.36 216.93Z"/>
<path d="M260.59 213.94H264.59L262.59 217.34Z"/>
<path d="M261.82 214.35H265.82L263.82 217.75Z"/>
<path d="M263.06 214.75H267.06L265.06 218.15Z"/>
<path d="M264.31 215.14H268.31L266.31 218.54Z"/>
<path d="M265.67 215.56H269.67L267.67 218.96Z"/>
<path d="M267.18 216.01H271.18L269.18 219.41Z"/>
<path d="M268.83 216.49H272.83L270.83 219.89Z"/>
<path d="M270.64 216.99H274.64L272.64 220.39Z"/>
<path d="M272.63 217.53H276.63L274.63 220.93Z"/>
<path d="M274.82 218.10H278.82L276.82 221.50Z"/>
<path d="M277.23 218.69H281.23L279.23 222.09Z"/>
<path d="M279.89 219.31H283.89L281.89 222.71Z"/>
<path d="M282.81 219.95H286.81L284.81 223.35Z"/>
<path d="M286.02 220.60H290.02L288.02 224.00Z"/>
<path d="M289.26 221.21H293.26L291.26 224.61Z"/>
<path d="M292.51 221.78H296.51L294.51 225.18Z"/>
<path d="M295.77 222.30H299.77L297.77 225.70Z"/>
<path d="M299.04 222.77H303.04L301.04 226.17Z"/>
<path d="M302.31 223.20H306.31L304.31 226.60Z"/>
<path d="M305.59 223.59H309.59L307.59 226.99Z"/>
<path d="M308.87 223.93H312.87L310.87 227.33Z"/>
<path d="M312.15 224.24H316.15L314.15 227.64Z"/>
<path d="M315.44 224.50H319.44L317.44 227.90Z"/>
<path d="M318.74 224.71H322.74L320.74 228.11Z"/>
<path d="M322.03 224.89H326.03L324.03 228.29Z"/>
<path d="M325.33 225.03H329.33L327.33 228.43Z"/>
<path d="M328.63 225.13H332.63L330.63 228.53Z"/>
<path d="M331.93 225.19H335.93L333.93 228.59Z"/>
<path d="M335.23 225.21H339.23L337.23 228.61Z"/>
<path d="M338.53 225.19H342.53L340.53 228.59Z"/>
<path d="M341.83 225.14H345.83L343.83 228.54Z"/>
<path d="M345.13 225.05H349.13L347.13 228.45Z"/>
<path d="M346.99 224.98H350.99L348.99 228.38Z"/>
</g>
<g fill="#fff" stroke="#888" stroke-width="0.9">
<path d="M41.19 25.54L43.29 27.64L41.19 29.74L39.09 27.64Z" fill="#888"/>
<path d="M41.70 25.85L43.80 27.95L41.70 30.05L39.60 27.95Z" fill="#888"/>
<path d="M42.21 26.17L44.31 28.27L42.21 30.37L40.11 28.27Z" fill="#888"/>
<path d="M42.72 26.50L44.82 28.60L42.72 30.70L40.62 28.60Z" fill="#888"/>
<path d="M43.24 26.83L45.34 28.93L43.24 31.03L41.14 28.93Z" fill="#888"/>
<path d="M43.74 27.17L45.84 29.27L43.74 31.37L41.64 29.27Z" fill="#888"/>
<path d="M44.25 27.51L46.35 29.61L44.25 31.71L42.15 29.61Z" fill="#888"/>
<path d="M44.76 27.86L46.86 29.96L44.76 32.06L42.66 29.96Z" fill="#888"/>
<path d="M45.27 28.22L47.37 30.32L45.27 32.42L43.17 30.32Z" fill="#888"/>
<path d="M45.78 28.58L47.88 30.68L45.78 32.78L43.68 30.68Z" fill="#888"/>
<path d="M46.28 28.95L48.38 31.05L46.28 33.15L44.18 31.05Z" fill="#888"/>
<path d="M46.79 29.32L48.89 31.42L46.79 33.52L44.69 31.42Z" fill="#888"/>
<path d="M47.29 29.70L49.39 31.80L47.29 33.90L45.19 31.80Z" fill="#888"/>
<path d="M47.79 30.08L49.89 32.18L47.79 34.28L45.69 32.18Z" fill="#888"/>
<path d="M48.29 30.48L50.39 32.58L48.29 34.68L46.19 32.58Z" fill="#888"/>
<path d="M48.79 30.87L50.89 32.97L48.79 35.07L46.69 32.97Z" fill="#888"/>
<path d="M49.29 31.28L51.39 33.38L49.29 35.48L47.19 33.38Z" fill="#888"/>
<path d="M49.79 31.69L51.89 33.79L49.79 35.89L47.69 33.79Z" fill="#888"/>
<path d="M50.28 32.10L52.38 34.20L50.28 36.30L48.18 34.20Z" fill="#888"/>
<path d="M50.78 32.52L52.88 34.62L50.78 36.72L48.68 34.62Z" fill="#888"/>
<path d="M51.27 32.95L53.37 35.05L51.27 37.15L49.17 35.05Z" fill="#888"/>
<path d="M51.76 33.38L53.86 35.48L51.76 37.58L49.66 35.48Z" fill="#888"/>
<path d="M52.25 33.82L54.35 35.92L52.25 38.02L50.15 35.92Z" fill="#888"/>
<path d="M52.74 34.26L54.84 36.36L52.74 38.46L50.64 36.36Z" fill="#888"/>
<path d="M53.22 34.71L55.32 36.81L53.22 38.91L51.12 36.81Z" fill="#888"/>
<path d="M53.71 35.16L55.81 37.26L53.71 39.36L51.61 37.26Z" fill="#888"/>
<path d="M54.19 35.62L56.29 37.72L54.19 39.82L52.09 37.72Z" fill="#888"/>
<path d="M54.67 36.09L56.77 38.19L54.67 40.29L52.57 38.19Z" fill="#888"/>
<path d="M55.15 36.56L57.25 38.66L55.15 40.76L53.05 38.66Z" fill="#888"/>
<path d="M55.63 37.03L57.73 39.13L55.63 41.23L53.53 39.13Z" fill="#888"/>
<path d="M56.11 37.52L58.21 39.62L56.11 41.72L54.01 39.62Z" fill="#888"/>
<path d="M56.58 38.00L58.68 40.10L56.58 42.20L54.48 40.10Z" fill="#888"/>
<path d="M57.06 38.49L59.16 40.59L57.06 42.69L54.96 40.59Z" fill="#888"/>
<path d="M57.53 38.99L59.63 41.09L57.53 43.19L55.43 41.09Z" fill="#888"/>
<path d="M58.00 39.49L60.10 41.59L58.00 43.69L55.90 41.59Z" fill="#888"/>
<path d="M58.47 40.00L60.57 42.10L58.47 44.20L56.37 42.10Z" fill="#888"/>
<path d="M58.93 40.51L61.03 42.61L58.93 44.71L56.83 42.61Z" fill="#888"/>
<path d="M59.40 41.02L61.50 43.12L59.40 45.22L57.30 43.12Z" fill="#888"/>
<path d="M59.86 41.54L61.96 43.64L59.86 45.74L57.76 43.64Z" fill="#888"/>
<path d="M60.32 42.07L62.42 44.17L60.32 46.27L58.22 44.17Z" fill="#888"/>
<path d="M60.80 42.62L62.90 44.72L60.80 46.82L58.70 44.72Z" fill="#888"/>
<path d="M61.30 43.20L63.40 45.30L61.30 47.40L59.20 45.30Z"/>
<path d="M61.82 43.82L63.92 45.92L61.82 48.02L59.72 45.92Z"/>
<path d="M62.36 44.47L64.46 46.57L62.36 48.67L60.26 46.57Z"/>
<path d="M62.93 45.16L65.03 47.26L62.93 49.36L60.83 47.26Z"/>
<path d="M63.53 45.90L65.63 48.00L63.53 50.10L61.43 48.00Z"/>
<path d="M64.15 46.67L66.25 48.77L64.15 50.87L62.05 48.77Z"/>
<path d="M64.80 47.49L66.90 49.59L64.80 51.69L62.70 49.59Z"/>
<path d="M65.48 48.36L67.58 50.46L65.48 52.56L63.38 50.46Z"/>
<path d="M66.18 49.28L68.28 51.38L66.18 53.48L64.08 51.38Z"/>
<path d="M66.90 50.24L69.00 52.34L66.90 54.44L64.80 52.34Z"/>
<path d="M67.63 51.20L69.73 53.30L67.63 55.40L65.53 53.30Z"/>
<path d="M68.34 52.18L70.44 54.28L68.34 56.38L66.24 54.28Z"/>
<path d="M69.06 53.16L71.16 55.26L69.06 57.36L66.96 55.26Z"/>
<path d="M69.77 54.15L71.87 56.25L69.77 58.35L67.67 56.25Z"/>
<path d="M70.48 55.14L72.58 57.24L70.48 59.34L68.38 57.24Z"/>
<path d="M71.19 56.15L73.29 58.25L71.19 60.35L69.09 58.25Z"/>
<path d="M71.90 57.16L74.00 59.26L71.90 61.36L69.80 59.26Z"/>
<path d="M72.60 58.17L74.70 60.27L72.60 62.37L70.50 60.27Z"/>
<path d="M73.31 59.19L75.41 61.29L73.31 63.39L71.21 61.29Z"/>
<path d="M74.01 60.22L76.11 62.32L74.01 64.42L71.91 62.32Z"/>
<path d="M74.72 61.25L76.82 63.35L74.72 65.45L72.62 63.35Z"/>
<path d="M75.42 62.29L77.52 64.39L75.42 66.49L73.32 64.39Z"/>
<path d="M76.13 63.33L78.23 65.43L76.13 67.53L74.03 65.43Z"/>
<path d="M76.83 64.38L78.93 66.48L76.83 68.58L74.73 66.48Z"/>
<path d="M77.54 65.43L79.64 67.53L77.54 69.63L75.44 67.53Z"/>
<path d="M78.25 66.49L80.35 68.59L78.25 70.69L76.15 68.59Z"/>
<path d="M78.96 67.55L81.06 69.65L78.96 71.75L76.86 69.65Z"/>
<path d="M79.67 68.62L81.77 70.72L79.67 72.82L77.57 70.72Z"/>
<path d="M80.38 69.69L82.48 71.79L80.38 73.89L78.28 71.79Z"/>
<path d="M81.09 70.76L83.19 72.86L81.09 74.96L78.99 72.86Z"/>
<path d="M81.81 71.84L83.91 73.94L81.81 76.04L79.71 73.94Z"/>
<path d="M82.52 72.93L84.62 75.03L82.52 77.13L80.42 75.03Z"/>
<path d="M83.27 74.06L85.37 76.16L83.27 78.26L81.17 76.16Z"/>
<path d="M84.05 75.27L86.15 77.37L84.05 79.47L81.95 77.37Z"/>
<path d="M84.88 76.55L86.98 78.65L84.88 80.75L82.78 78.65Z"/>
<path d="M85.76 77.90L87.86 80.00L85.76 82.10L83.66 80.00Z"/>
<path d="M86.69 79.34L88.79 81.44L86.69 83.54L84.59 81.44Z"/>
<path d="M87.67 80.87L89.77 82.97L87.67 85.07L85.57 82.97Z"/>
<path d="M88.71 82.49L90.81 84.59L88.71 86.69L86.61 84.59Z"/>
<path d="M89.80 84.21L91.90 86.31L89.80 88.41L87.70 86.31Z"/>
<path d="M90.96 86.04L93.06 88.14L90.96 90.24L88.86 88.14Z"/>
<path d="M92.18 87.97L94.28 90.07L92.18 92.17L90.08 90.07Z"/>
<path d="M93.45 90.01L95.55 92.11L93.45 94.21L91.35 92.11Z"/>
<path d="M94.72 92.05L96.82 94.15L94.72 96.25L92.62 94.15Z"/>
<path d="M95.98 94.10L98.08 96.20L95.98 98.30L93.88 96.20Z"/>
<path d="M97.24 96.16L99.34 98.26L97.24 100.36L95.14 98.26Z"/>
<path d="M98.50 98.22L100.60 100.32L98.50 102.42L96.40 100.32Z"/>
<path d="M99.76 100.30L101.86 102.40L99.76 104.50L97.66 102.40Z"/>
<path d="M101.01 102.38L103.11 104.48L101.01 106.58L98.91 104.48Z"/>
<path d="M102.25 104.46L104.35 106.56L102.25 108.66L100.15 106.56Z"/>
<path d="M103.50 106.56L105.60 108.66L103.50 110.76L101.40 108.66Z"/>
<path d="M104.73 108.66L106.83 110.76L104.73 112.86L102.63 110.76Z"/>
<path d="M105.97 110.77L108.07 112.87L105.97 114.97L103.87 112.87Z"/>
<path d="M107.20 112.88L109.30 114.98L107.20 117.08L105.10 114.98Z"/>
<path d="M108.43 115.01L110.53 117.11L108.43 119.21L106.33 117.11Z"/>
<path d="M109.65 117.14L111.75 119.24L109.65 121.34L107.55 119.24Z"/>
<path d="M110.87 119.28L112.97 121.38L110.87 123.48L108.77 121.38Z"/>
<path d="M112.08 121.42L114.18 123.52L112.08 125.62L109.98 123.52Z"/>
<path d="M113.30 123.57L115.40 125.67L113.30 127.77L111.20 125.67Z"/>
<path d="M114.51 125.73L116.61 127.83L114.51 129.93L112.41 127.83Z"/>
<path d="M115.73 127.88L117.83 129.98L115.73 132.08L113.63 129.98Z"/>
<path d="M116.95 130.05L119.05 132.15L116.95 134.25L114.85 132.15Z"/>
<path d="M118.18 132.21L120.28 134.31L118.18 136.41L116.08 134.31Z"/>
<path d="M119.41 134.37L121.51 136.47L119.41 138.57L117.31 136.47Z"/>
<path d="M120.65 136.53L122.75 138.63L120.65 140.73L118.55 138.63Z"/>
<path d="M121.91 138.70L124.01 140.80L121.91 142.90L119.81 140.80Z"/>
<path d="M123.17 140.86L125.27 142.96L123.17 145.06L121.07 142.96Z"/>
<path d="M124.45 143.01L126.55 145.11L124.45 147.21L122.35 145.11Z"/>
<path d="M125.74 145.17L127.84 147.27L125.74 149.37L123.64 147.27Z"/>
<path d="M127.05 147.31L129.15 149.41L127.05 151.51L124.95 149.41Z"/>
<path d="M128.38 149.46L130.48 151.56L128.38 153.66L126.28 151.56Z"/>
<path d="M129.73 151.59L131.83 153.69L129.73 155.79L127.63 153.69Z"/>
<path d="M131.10 153.72L133.20 155.82L131.10 157.92L129.00 155.82Z"/>
<path d="M132.49 155.84L134.59 157.94L132.49 160.04L130.39 157.94Z"/>
<path d="M133.91 157.95L136.01 160.05L133.91 162.15L131.81 160.05Z"/>
<path d="M135.35 160.04L137.45 162.14L135.35 164.24L133.25 162.14Z"/>
<path d="M136.81 162.13L138.91 164.23L136.81 166.33L134.71 164.23Z"/>
<path d="M138.30 164.21L140.40 166.31L138.30 168.41L136.20 166.31Z"/>
<path d="M139.81 166.27L141.91 168.37L139.81 170.47L137.71 168.37Z"/>
<path d="M141.35 168.32L143.45 170.42L141.35 172.52L139.25 170.42Z"/>
<path d="M142.92 170.36L145.02 172.46L142.92 174.56L140.82 172.46Z"/>
<path d="M144.52 172.38L146.62 174.48L144.52 176.58L142.42 174.48Z"/>
<path d="M146.14 174.39L148.24 176.49L146.14 178.59L144.04 176.49Z"/>
<path d="M147.79 176.38L149.89 178.48L147.79 180.58L145.69 178.48Z"/>
<path d="M149.47 178.36L151.57 180.46L149.47 182.56L147.37 180.46Z"/>
<path d="M151.18 180.31L153.28 182.41L151.18 184.51L149.08 182.41Z"/>
<path d="M152.89 182.21L154.99 184.31L152.89 186.41L150.79 184.31Z"/>
<path d="M154.57 184.03L156.67 186.13L154.57 188.23L152.47 186.13Z"/>
<path d="M156.24 185.79L158.34 187.89L156.24 189.99L154.14 187.89Z"/>
<path d="M157.88 187.47L159.98 189.57L157.88 191.67L155.78 189.57Z"/>
<path d="M159.50 189.08L161.60 191.18L159.50 193.28L157.40 191.18Z"/>
<path d="M161.09 190.63L163.19 192.73L161.09 194.83L158.99 192.73Z"/>
<path d="M162.66 192.11L164.76 194.21L162.66 196.31L160.56 194.21Z"/>
<path d="M164.20 193.52L166.30 195.62L164.20 197.72L162.10 195.62Z"/>
<path d="M165.72 194.87L167.82 196.97L165.72 199.07L163.62 196.97Z"/>
<path d="M167.21 196.17L169.31 198.27L167.21 200.37L165.11 198.27Z"/>
<path d="M168.67 197.40L170.77 199.50L168.67 201.60L166.57 199.50Z"/>
<path d="M170.10 198.58L172.20 200.68L170.10 202.78L168.00 200.68Z"/>
<path d="M171.50 199.70L173.60 201.80L171.50 203.90L169.40 201.80Z"/>
<path d="M172.87 200.77L174.97 202.87L172.87 204.97L170.77 202.87Z"/>
<path d="M174.22 201.79L176.32 203.89L174.22 205.99L172.12 203.89Z"/>
<path d="M175.53 202.76L177.63 204.86L175.53 206.96L173.43 204.86Z"/>
<path d="M176.81 203.68L178.91 205.78L176.81 207.88L174.71 205.78Z"/>
<path d="M178.06 204.56L180.16 206.66L178.06 208.76L175.96 206.66Z"/>
<path d="M179.28 205.39L181.38 207.49L179.28 209.59L177.18 207.49Z"/>
<path d="M180.47 206.18L182.57 208.28L180.47 210.38L178.37 208.28Z"/>
<path d="M181.63 206.93L183.73 209.03L181.63 211.13L179.53 209.03Z"/>
<path d="M182.76 207.65L184.86 209.75L182.76 211.85L180.66 209.75Z"/>
<path d="M183.85 208.32L185.95 210.42L183.85 212.52L181.75 210.42Z"/>
<path d="M184.92 208.97L187.02 211.07L184.92 213.17L182.82 211.07Z"/>
<path d="M185.96 209.58L188.06 211.68L185.96 213.78L183.86 211.68Z"/>
<path d="M186.99 210.17L189.09 212.27L186.99 214.37L184.89 212.27Z"/>
<path d="M188.02 210.74L190.12 212.84L188.02 214.94L185.92 212.84Z"/>
<path d="M189.05 211.30L191.15 213.40L189.05 215.50L186.95 213.40Z"/>
<path d="M190.07 211.85L192.17 213.95L190.07 216.05L187.97 213.95Z"/>
<path d="M191.09 212.38L193.19 214.48L191.09 216.58L188.99 214.48Z"/>
<path d="M192.11 212.89L194.21 214.99L192.11 217.09L190.01 214.99Z"/>
<path d="M193.12 213.39L195.22 215.49L193.12 217.59L191.02 215.49Z"/>
<path d="M194.13 213.87L196.23 215.97L194.13 218.07L192.03 215.97Z"/>
<path d="M195.14 214.34L197.24 216.44L195.14 218.54L193.04 216.44Z"/>
<path d="M196.14 214.79L198.24 216.89L196.14 218.99L194.04 216.89Z"/>
<path d="M197.14 215.22L199.24 217.32L197.14 219.42L195.04 217.32Z"/>
<path d="M198.13 215.65L200.23 217.75L198.13 219.85L196.03 217.75Z"/>
<path d="M199.12 216.05L201.22 218.15L199.12 220.25L197.02 218.15Z"/>
<path d="M200.10 216.45L202.20 218.55L200.10 220.65L198.00 218.55Z"/>
<path d="M201.08 216.83L203.18 218.93L201.08 221.03L198.98 218.93Z"/>
<path d="M202.05 217.19L204.15 219.29L202.05 221.39L199.95 219.29Z"/>
<path d="M203.02 217.55L205.12 219.65L203.02 221.75L200.92 219.65Z"/>
<path d="M203.98 217.88L206.08 219.98L203.98 222.08L201.88 219.98Z"/>
<path d="M204.94 218.21L207.04 220.31L204.94 222.41L202.84 220.31Z"/>
<path d="M205.89 218.52L207.99 220.62L205.89 222.72L203.79 220.62Z"/>
<path d="M206.83 218.82L208.93 220.92L206.83 223.02L204.73 220.92Z"/>
<path d="M207.77 219.11L209.87 221.21L207.77 223.31L205.67 221.21Z"/>
<path d="M208.70 219.38L210.80 221.48L208.70 223.58L206.60 221.48Z"/>
<path d="M209.63 219.65L211.73 221.75L209.63 223.85L207.53 221.75Z"/>
<path d="M210.55 219.90L212.65 222.00L210.55 224.10L208.45 222.00Z"/>
<path d="M211.46 220.15L213.56 222.25L211.46 224.35L209.36 222.25Z"/>
<path d="M212.37 220.38L214.47 222.48L212.37 224.58L210.27 222.48Z"/>
<path d="M213.27 220.60L215.37 222.70L213.27 224.80L211.17 222.70Z"/>
<path d="M214.16 220.82L216.26 222.92L214.16 225.02L212.06 222.92Z"/>
<path d="M215.04 221.02L217.14 223.12L215.04 225.22L212.94 223.12Z"/>
<path d="M215.92 221.22L218.02 223.32L215.92 225.42L213.82 223.32Z"/>
<path d="M216.80 221.41L218.90 223.51L216.80 225.61L214.70 223.51Z"/>
<path d="M217.68 221.60L219.78 223.70L217.68 225.80L215.58 223.70Z"/>
<path d="M218.56 221.77L220.66 223.87L218.56 225.97L216.46 223.87Z"/>
<path d="M219.45 221.95L221.55 224.05L219.45 226.15L217.35 224.05Z"/>
<path d="M220.33 222.11L222.43 224.21L220.33 226.31L218.23 224.21Z"/>
<path d="M221.22 222.27L223.32 224.37L221.22 226.47L219.12 224.37Z"/>
<path d="M222.10 222.43L224.20 224.53L222.10 226.63L220.00 224.53Z"/>
<path d="M222.99 222.58L225.09 224.68L222.99 226.78L220.89 224.68Z"/>
<path d="M223.88 222.72L225.98 224.82L223.88 226.92L221.78 224.82Z"/>
<path d="M224.77 222.86L226.87 224.96L224.77 227.06L222.67 224.96Z"/>
<path d="M225.66 222.99L227.76 225.09L225.66 227.19L223.56 225.09Z"/>
<path d="M226.55 223.12L228.65 225.22L226.55 227.32L224.45 225.22Z"/>
<path d="M227.44 223.24L229.54 225.34L227.44 227.44L225.34 225.34Z"/>
<path d="M228.33 223.36L230.43 225.46L228.33 227.56L226.23 225.46Z"/>
<path d="M229.23 223.47L231.33 225.57L229.23 227.67L227.13 225.57Z"/>
<path d="M230.12 223.58L232.22 225.68L230.12 227.78L228.02 225.68Z"/>
<path d="M231.01 223.69L233.11 225.79L231.01 227.89L228.91 225.79Z"/>
<path d="M231.91 223.79L234.01 225.89L231.91 227.99L229.81 225.89Z"/>
<path d="M232.80 223.88L234.90 225.98L232.80 228.08L230.70 225.98Z"/>
<path d="M233.70 223.97L235.80 226.07L233.70 228.17L231.60 226.07Z"/>
<path d="M234.59 224.06L236.69 226.16L234.59 228.26L232.49 226.16Z"/>
<path d="M235.49 224.15L237.59 226.25L235.49 228.35L233.39 226.25Z"/>
<path d="M236.39 224.22L238.49 226.32L236.39 228.42L234.29 226.32Z"/>
<path d="M237.28 224.30L239.38 226.40L237.28 228.50L235.18 226.40Z"/>
<path d="M238.18 224.37L240.28 226.47L238.18 228.57L236.08 226.47Z"/>
<path d="M239.08 224.44L241.18 226.54L239.08 228.64L236.98 226.54Z"/>
<path d="M239.98 224.51L242.08 226.61L239.98 228.71L237.88 226.61Z"/>
<path d="M240.87 224.57L242.97 226.67L240.87 228.77L238.77 226.67Z"/>
<path d="M241.77 224.63L243.87 226.73L241.77 228.83L239.67 226.73Z"/>
<path d="M242.67 224.68L244.77 226.78L242.67 228.88L240.57 226.78Z"/>
<path d="M243.57 224.74L245.67 226.84L243.57 228.94L241.47 226.84Z"/>
<path d="M244.47 224.79L246.57 226.89L244.47 228.99L242.37 226.89Z"/>
<path d="M245.37 224.83L247.47 226.93L245.37 229.03L243.27 226.93Z"/>
<path d="M246.26 224.88L248.36 226.98L246.26 229.08L244.16 226.98Z"/>
<path d="M247.16 224.92L249.26 227.02L247.16 229.12L245.06 227.02Z"/>
<path d="M248.06 224.96L250.16 227.06L248.06 229.16L245.96 227.06Z"/>
<path d="M248.96 225.00L251.06 227.10L248.96 229.20L246.86 227.10Z"/>
<path d="M249.86 225.03L251.96 227.13L249.86 229.23L247.76 227.13Z"/>
<path d="M250.76 225.06L252.86 227.16L250.76 229.26L248.66 227.16Z"/>
<path d="M251.66 225.09L253.76 227.19L251.66 229.29L249.56 227.19Z"/>
<path d="M252.56 225.12L254.66 227.22L252.56 229.32L250.46 227.22Z"/>
<path d="M253.46 225.15L255.56 227.25L253.46 229.35L251.36 227.25Z"/>
<path d="M254.36 225.17L256.46 227.27L254.36 229.37L252.26 227.27Z"/>
<path d="M255.26 225.19L257.36 227.29L255.26 229.39L253.16 227.29Z"/>
<path d="M256.16 225.22L258.26 227.32L256.16 229.42L254.06 227.32Z"/>
<path d="M257.06 225.24L259.16 227.34L257.06 229.44L254.96 227.34Z"/>
<path d="M257.96 225.25L260.06 227.35L257.96 229.45L255.86 227.35Z"/>
<path d="M258.86 225.27L260.96 227.37L258.86 229.47L256.76 227.37Z"/>
<path d="M259.76 225.29L261.86 227.39L259.76 229.49L257.66 227.39Z"/>
<path d="M260.66 225.30L262.76 227.40L260.66 229.50L258.56 227.40Z"/>
<path d="M261.56 225.31L263.66 227.41L261.56 229.51L259.46 227.41Z"/>
<path d="M262.46 225.33L264.56 227.43L262.46 229.53L260.36 227.43Z"/>
<path d="M263.36 225.34L265.46 227.44L263.36 229.54L261.26 227.44Z"/>
<path d="M264.26 225.35L266.36 227.45L264.26 229.55L262.16 227.45Z"/>
<path d="M265.16 225.36L267.26 227.46L265.16 229.56L263.06 227.46Z"/>
<path d="M266.06 225.37L268.16 227.47L266.06 229.57L263.96 227.47Z"/>
<path d="M266.96 225.38L269.06 227.48L266.96 229.58L264.86 227.48Z"/>
<path d="M267.86 225.39L269.96 227.49L267.86 229.59L265.76 227.49Z"/>
<path d="M268.76 225.39L270.86 227.49L268.76 229.59L266.66 227.49Z"/>
<path d="M269.66 225.40L271.76 227.50L269.66 229.60L267.56 227.50Z"/>
<path d="M270.56 225.41L272.66 227.51L270.56 229.61L268.46 227.51Z"/>
<path d="M271.46 225.42L273.56 227.52L271.46 229.62L269.36 227.52Z"/>
<path d="M272.36 225.43L274.46 227.53L272.36 229.63L270.26 227.53Z"/>
<path d="M273.26 225.43L275.36 227.53L273.26 229.63L271.16 227.53Z"/>
<path d="M274.16 225.44L276.26 227.54L274.16 229.64L272.06 227.54Z"/>
<path d="M275.06 225.45L277.16 227.55L275.06 229.65L272.96 227.55Z"/>
<path d="M275.96 225.46L278.06 227.56L275.96 229.66L273.86 227.56Z"/>
<path d="M276.86 225.47L278.96 227.57L276.86 229.67L274.76 227.57Z"/>
<path d="M277.76 225.48L279.86 227.58L277.76 229.68L275.66 227.58Z"/>
<path d="M278.66 225.49L280.76 227.59L278.66 229.69L276.56 227.59Z"/>
<path d="M279.56 225.50L281.66 227.60L279.56 229.70L277.46 227.60Z"/>
<path d="M280.46 225.52L282.56 227.62L280.46 229.72L278.36 227.62Z"/>
<path d="M281.36 225.53L283.46 227.63L281.36 229.73L279.26 227.63Z"/>
<path d="M282.26 225.54L284.36 227.64L282.26 229.74L280.16 227.64Z"/>
<path d="M283.16 225.55L285.26 227.65L283.16 229.75L281.06 227.65Z"/>
<path d="M284.06 225.57L286.16 227.67L284.06 229.77L281.96 227.67Z"/>
<path d="M284.96 225.58L287.06 227.68L284.96 229.78L282.86 227.68Z"/>
<path d="M285.86 225.60L287.96 227.70L285.86 229.80L283.76 227.70Z"/>
<path d="M286.76 225.61L288.86 227.71L286.76 229.81L284.66 227.71Z"/>
<path d="M287.66 225.63L289.76 227.73L287.66 229.83L285.56 227.73Z"/>
<path d="M288.56 225.64L290.66 227.74L288.56 229.84L286.46 227.74Z"/>
<path d="M289.46 225.66L291.56 227.76L289.46 229.86L287.36 227.76Z"/>
<path d="M290.36 225.68L292.46 227.78L290.36 229.88L288.26 227.78Z"/>
<path d="M291.25 225.69L293.35 227.79L291.25 229.89L289.15 227.79Z"/>
<path d="M292.15 225.71L294.25 227.81L292.15 229.91L290.05 227.81Z"/>
<path d="M293.05 225.73L295.15 227.83L293.05 229.93L290.95 227.83Z"/>
<path d="M293.95 225.75L296.05 227.85L293.95 229.95L291.85 227.85Z"/>
<path d="M294.85 225.77L296.95 227.87L294.85 229.97L292.75 227.87Z"/>
<path d="M295.75 225.78L297.85 227.88L295.75 229.98L293.65 227.88Z"/>
<path d="M296.65 225.80L298.75 227.90L296.65 230.00L294.55 227.90Z"/>
<path d="M297.55 225.82L299.65 227.92L297.55 230.02L295.45 227.92Z"/>
<path d="M298.45 225.84L300.55 227.94L298.45 230.04L296.35 227.94Z"/>
<path d="M299.35 225.86L301.45 227.96L299.35 230.06L297.25 227.96Z"/>
<path d="M300.25 225.88L302.35 227.98L300.25 230.08L298.15 227.98Z"/>
<path d="M301.15 225.90L303.25 228.00L301.15 230.10L299.05 228.00Z"/>
<path d="M302.05 225.92L304.15 228.02L302.05 230.12L299.95 228.02Z"/>
<path d="M302.95 225.94L305.05 228.04L302.95 230.14L300.85 228.04Z"/>
<path d="M303.85 225.96L305.95 228.06L303.85 230.16L301.75 228.06Z"/>
<path d="M304.75 225.98L306.85 228.08L304.75 230.18L302.65 228.08Z"/>
<path d="M305.65 226.00L307.75 228.10L305.65 230.20L303.55 228.10Z"/>
<path d="M306.55 226.03L308.65 228.13L306.55 230.23L304.45 228.13Z"/>
<path d="M307.45 226.05L309.55 228.15L307.45 230.25L305.35 228.15Z"/>
<path d="M308.35 226.07L310.45 228.17L308.35 230.27L306.25 228.17Z"/>
<path d="M309.25 226.09L311.35 228.19L309.25 230.29L307.15 228.19Z"/>
<path d="M310.15 226.11L312.25 228.21L310.15 230.31L308.05 228.21Z"/>
<path d="M311.05 226.13L313.15 228.23L311.05 230.33L308.95 228.23Z"/>
<path d="M311.95 226.15L314.05 228.25L311.95 230.35L309.85 228.25Z"/>
<path d="M312.85 226.18L314.95 228.28L312.85 230.38L310.75 228.28Z"/>
<path d="M313.75 226.20L315.85 228.30L313.75 230.40L311.65 228.30Z"/>
<path d="M314.65 226.22L316.75 228.32L314.65 230.42L312.55 228.32Z"/>
<path d="M315.55 226.24L317.65 228.34L315.55 230.44L313.45 228.34Z"/>
<path d="M316.45 226.26L318.55 228.36L316.45 230.46L314.35 228.36Z"/>
<path d="M317.35 226.28L319.45 228.38L317.35 230.48L315.25 228.38Z"/>
<path d="M318.25 226.31L320.35 228.41L318.25 230.51L316.15 228.41Z"/>
<path d="M319.15 226.33L321.25 228.43L319.15 230.53L317.05 228.43Z"/>
<path d="M320.05 226.35L322.15 228.45L320.05 230.55L317.95 228.45Z"/>
<path d="M320.95 226.37L323.05 228.47L320.95 230.57L318.85 228.47Z"/>
<path d="M321.85 226.39L323.95 228.49L321.85 230.59L319.75 228.49Z"/>
<path d="M322.75 226.41L324.85 228.51L322.75 230.61L320.65 228.51Z"/>
<path d="M323.65 226.43L325.75 228.53L323.65 230.63L321.55 228.53Z"/>
<path d="M324.55 226.45L326.65 228.55L324.55 230.65L322.45 228.55Z"/>
<path d="M325.45 226.47L327.55 228.57L325.45 230.67L323.35 228.57Z"/>
<path d="M326.35 226.49L328.45 228.59L326.35 230.69L324.25 228.59Z"/>
<path d="M327.25 226.52L329.35 228.62L327.25 230.72L325.15 228.62Z"/>
<path d="M327.89 226.53L329.99 228.63L327.89 230.73L325.79 228.63Z"/>
</g>
<g fill="#fff" stroke="#f0f" stroke-width="0.9">
<path d="M43.12 29.99V33.99L39.72 31.99Z"/>
<path d="M43.49 30.47V34.47L40.09 32.47Z"/>
<path d="M43.86 30.95V34.95L40.46 32.95Z"/>
<path d="M44.22 31.43V35.43L40.82 33.43Z"/>
<path d="M44.59 31.92V35.92L41.19 33.92Z"/>
<path d="M44.94 32.41V36.41L41.54 34.41Z"/>
<path d="M45.30 32.91V36.91L41.90 34.91Z"/>
<path d="M45.65 33.41V37.41L42.25 35.41Z"/>
<path d="M46.00 33.92V37.92L42.60 35.92Z"/>
<path d="M46.35 34.43V38.43L42.95 36.43Z"/>
<path d="M46.69 34.95V38.95L43.29 36.95Z"/>
<path d="M47.03 35.47V39.47L43.63 37.47Z"/>
<path d="M47.36 35.99V39.99L43.96 37.99Z"/>
<path d="M47.70 36.52V40.52L44.30 38.52Z"/>
<path d="M48.03 37.05V41.05L44.63 39.05Z"/>
<path d="M48.35 37.59V41.59L44.95 39.59Z"/>
<path d="M48.68 38.13V42.13L45.28 40.13Z"/>
<path d="M49.00 38.67V42.67L45.60 40.67Z"/>
<path d="M49.31 39.21V43.21L45.91 41.21Z"/>
<path d="M49.63 39.77V43.77L46.23 41.77Z"/>
<path d="M49.94 40.32V44.32L46.54 42.32Z"/>
<path d="M50.24 40.88V44.88L46.84 42.88Z"/>
<path d="M50.55 41.44V45.44L47.15 43.44Z"/>
<path d="M50.85 42.00V46.00L47.45 44.00Z"/>
<path d="M51.15 42.57V46.57L47.75 44.57Z"/>
<path d="M51.45 43.14V47.14L48.05 45.14Z"/>
<path d="M51.74 43.71V47.71L48.34 45.71Z"/>
<path d="M52.03 44.29V48.29L48.63 46.29Z"/>
<path d="M52.31 44.87V48.87L48.91 46.87Z"/>
<path d="M52.60 45.45V49.45L49.20 47.45Z"/>
<path d="M52.88 46.04V50.04L49.48 48.04Z"/>
<path d="M53.16 46.63V50.63L49.76 48.63Z"/>
<path d="M53.43 47.22V51.22L50.03 49.22Z"/>
<path d="M53.70 47.82V51.82L50.30 49.82Z"/>
<path d="M53.97 48.41V52.41L50.57 50.41Z"/>
<path d="M54.24 49.01V53.01L50.84 51.01Z"/>
<path d="M54.51 49.62V53.62L51.11 51.62Z"/>
<path d="M54.77 50.22V54.22L51.37 52.22Z"/>
<path d="M55.03 50.83V54.83L51.63 52.83Z"/>
<path d="M55.28 51.44V55.44L51.88 53.44Z"/>
<path d="M55.54 52.05V56.05L52.14 54.05Z"/>
<path d="M55.79 52.67V56.67L52.39 54.67Z"/>
<path d="M56.04 53.29V57.29L52.64 55.29Z"/>
<path d="M56.29 53.91V57.91L52.89 55.91Z"/>
<path d="M56.53 54.53V58.53L53.13 56.53Z"/>
<path d="M56.77 55.15V59.15L53.37 57.15Z"/>
<path d="M57.01 55.78V59.78L53.61 57.78Z"/>
<path d="M57.25 56.41V60.41L53.85 58.41Z"/>
<path d="M57.49 57.04V61.04L54.09 59.04Z"/>
<path d="M57.72 57.67V61.67L54.32 59.67Z"/>
<path d="M57.95 58.30V62.30L54.55 60.30Z"/>
<path d="M58.18 58.94V62.94L54.78 60.94Z"/>
<path d="M58.41 59.58V63.58L55.01 61.58Z"/>
<path d="M58.64 60.22V64.22L55.24 62.22Z"/>
<path d="M58.86 60.86V64.86L55.46 62.86Z"/>
<path d="M59.09 61.50V65.50L55.69 63.50Z"/>
<path d="M59.31 62.15V66.15L55.91 64.15Z"/>
<path d="M59.53 62.80V66.80L56.13 64.80Z"/>
<path d="M59.74 63.45V67.45L56.34 65.45Z"/>
<path d="M59.96 64.10V68.10L56.56 66.10Z"/>
<path d="M60.17 64.75V68.75L56.77 66.75Z"/>
<path d="M60.39 65.40V69.40L56.99 67.40Z"/>
<path d="M60.60 66.06V70.06L57.20 68.06Z"/>
<path d="M60.81 66.72V70.72L57.41 68.72Z"/>
<path d="M61.02 67.37V71.37L57.62 69.37Z"/>
<path d="M61.23 68.03V72.03L57.83 70.03Z"/>
<path d="M61.44 68.70V72.70L58.04 70.70Z"/>
<path d="M61.64 69.36V73.36L58.24 71.36Z"/>
<path d="M61.85 70.02V74.02L58.45 72.02Z"/>
<path d="M62.05 70.69V74.69L58.65 72.69Z"/>
<path d="M62.26 71.36V75.36L58.86 73.36Z"/>
<path d="M62.46 72.02V76.02L59.06 74.02Z"/>
<path d="M62.66 72.69V76.69L59.26 74.69Z"/>
<path d="M62.87 73.38V77.38L59.47 75.38Z"/>
<path d="M63.09 74.14V78.14L59.69 76.14Z"/>
<path d="M63.34 74.96V78.96L59.94 76.96Z"/>
<path d="M63.60 75.86V79.86L60.20 77.86Z"/>
<path d="M63.89 76.85V80.85L60.49 78.85Z"/>
<path d="M64.21 77.92V81.92L60.81 79.92Z"/>
<path d="M64.55 79.10V83.10L61.15 81.10Z"/>
<path d="M64.92 80.38V84.38L61.52 82.38Z"/>
<path d="M65.33 81.78V85.78L61.93 83.78Z"/>
<path d="M65.77 83.30V87.30L62.37 85.30Z"/>
<path d="M66.25 84.96V88.96L62.85 86.96Z"/>
<path d="M66.78 86.77V90.77L63.38 88.77Z"/>
<path d="M67.34 88.69V92.69L63.94 90.69Z"/>
<path d="M67.90 90.61V94.61L64.50 92.61Z"/>
<path d="M68.47 92.53V96.53L65.07 94.53Z"/>
<path d="M69.03 94.45V98.45L65.63 96.45Z"/>
<path d="M69.60 96.37V100.37L66.20 98.37Z"/>
<path d="M70.17 98.29V102.29L66.77 100.29Z"/>
<path d="M70.74 100.20V104.20L67.34 102.20Z"/>
<path d="M71.31 102.12V106.12L67.91 104.12Z"/>
<path d="M71.88 104.04V108.04L68.48 106.04Z"/>
<path d="M72.46 105.95V109.95L69.06 107.95Z"/>
<path d="M73.03 107.87V111.87L69.63 109.87Z"/>
<path d="M73.61 109.78V113.78L70.21 111.78Z"/>
<path d="M74.19 111.70V115.70L70.79 113.70Z"/>
<path d="M74.77 113.61V117.61L71.37 115.61Z"/>
<path d="M75.36 115.52V119.52L71.96 117.52Z"/>
<path d="M75.94 117.44V121.44L72.54 119.44Z"/>
<path d="M76.53 119.35V123.35L73.13 121.35Z"/>
<path d="M77.12 121.26V125.26L73.72 123.26Z"/>
<path d="M77.71 123.17V127.17L74.31 125.17Z"/>
<path d="M78.31 125.08V129.08L74.91 127.08Z"/>
<path d="M78.90 126.99V130.99L75.50 128.99Z"/>
<path d="M79.50 128.90V132.90L76.10 130.90Z"/>
<path d="M80.10 130.80V134.80L76.70 132.80Z"/>
<path d="M80.70 132.71V136.71L77.30 134.71Z"/>
<path d="M81.31 134.62V138.62L77.91 136.62Z"/>
<path d="M81.92 136.52V140.52L78.52 138.52Z"/>
<path d="M82.53 138.43V142.43L79.13 140.43Z"/>
<path d="M83.14 140.33V144.33L79.74 142.33Z"/>
<path d="M83.75 142.23V146.23L80.35 144.23Z"/>
<path d="M84.37 144.14V148.14L80.97 146.14Z"/>
<path d="M84.99 146.04V150.04L81.59 148.04Z"/>
<path d="M85.61 147.94V151.94L82.21 149.94Z"/>
<path d="M86.24 149.84V153.84L82.84 151.84Z"/>
<path d="M86.86 151.74V155.74L83.46 153.74Z"/>
<path d="M87.49 153.64V157.64L84.09 155.64Z"/>
<path d="M88.12 155.53V159.53L84.72 157.53Z"/>
<path d="M88.76 157.43V161.43L85.36 159.43Z"/>
<path d="M89.39 159.33V163.33L85.99 161.33Z"/>
<path d="M90.03 161.22V165.22L86.63 163.22Z"/>
<path d="M90.68 163.12V167.12L87.28 165.12Z"/>
<path d="M91.33 165.01V169.01L87.93 167.01Z"/>
<path d="M91.99 166.89V170.89L88.59 168.89Z"/>
<path d="M92.66 168.78V172.78L89.26 170.78Z"/>
<path d="M93.34 170.66V174.66L89.94 172.66Z"/>
<path d="M94.04 172.53V176.53L90.64 174.53Z"/>
<path d="M94.75 174.40V178.40L91.35 176.40Z"/>
<path d="M95.48 176.27V180.27L92.08 178.27Z"/>
<path d="M96.22 178.12V182.12L92.82 180.12Z"/>
<path d="M96.99 179.97V183.97L93.59 181.97Z"/>
<path d="M97.78 181.81V185.81L94.38 183.81Z"/>
<path d="M98.59 183.64V187.64L95.19 185.64Z"/>
<path d="M99.42 185.45V189.45L96.02 187.45Z"/>
<path d="M100.28 187.26V191.26L96.88 189.26Z"/>
<path d="M101.17 189.05V193.05L97.77 191.05Z"/>
<path d="M102.09 190.82V194.82L98.69 192.82Z"/>
<path d="M103.05 192.58V196.58L99.65 194.58Z"/>
<path d="M104.04 194.32V198.32L100.64 196.32Z"/>
<path d="M105.06 196.04V200.04L101.66 198.04Z"/>
<path d="M106.13 197.73V201.73L102.73 199.73Z"/>
<path d="M107.23 199.40V203.40L103.83 201.40Z"/>
<path d="M108.35 201.01V205.01L104.95 203.01Z"/>
<path d="M109.48 202.53V206.53L106.08 204.53Z"/>
<path d="M110.60 203.98V207.98L107.20 205.98Z"/>
<path d="M111.72 205.33V209.33L108.32 207.33Z"/>
<path d="M112.83 206.61V210.61L109.43 208.61Z"/>
<path d="M113.92 207.81V211.81L110.52 209.81Z"/>
<path d="M115.01 208.94V212.94L111.61 210.94Z"/>
<path d="M116.07 209.98V213.98L112.67 211.98Z"/>
<path d="M117.12 210.96V214.96L113.72 212.96Z"/>
<path d="M118.14 211.87V215.87L114.74 213.87Z"/>
<path d="M119.14 212.71V216.71L115.74 214.71Z"/>
<path d="M120.12 213.50V217.50L116.72 215.50Z"/>
<path d="M121.06 214.22V218.22L117.66 216.22Z"/>
<path d="M121.97 214.89V218.89L118.57 216.89Z"/>
<path d="M122.85 215.51V219.51L119.45 217.51Z"/>
<path d="M123.70 216.08V220.08L120.30 218.08Z"/>
<path d="M124.52 216.61V220.61L121.12 218.61Z"/>
<path d="M125.31 217.10V221.10L121.91 219.10Z"/>
<path d="M126.06 217.55V221.55L122.66 219.55Z"/>
<path d="M126.78 217.97V221.97L123.38 219.97Z"/>
<path d="M127.48 218.35V222.35L124.08 220.35Z"/>
<path d="M128.18 218.73V222.73L124.78 220.73Z"/>
<path d="M128.90 219.10V223.10L125.50 221.10Z"/>
<path d="M129.61 219.45V223.45L126.21 221.45Z"/>
<path d="M130.33 219.80V223.80L126.93 221.80Z"/>
<path d="M131.06 220.13V224.13L127.66 222.13Z"/>
<path d="M131.79 220.45V224.45L128.39 222.45Z"/>
<path d="M132.53 220.76V224.76L129.13 222.76Z"/>
<path d="M133.27 221.06V225.06L129.87 223.06Z"/>
<path d="M134.02 221.35V225.35L130.62 223.35Z"/>
<path d="M134.77 221.63V225.63L131.37 223.63Z"/>
<path d="M135.53 221.89V225.89L132.13 223.89Z"/>
<path d="M136.29 222.14V226.14L132.89 224.14Z"/>
<path d="M137.05 222.38V226.38L133.65 224.38Z"/>
<path d="M137.82 222.61V226.61L134.42 224.61Z"/>
<path d="M138.59 222.82V226.82L135.19 224.82Z"/>
<path d="M139.36 223.03V227.03L135.96 225.03Z"/>
<path d="M140.14 223.22V227.22L136.74 225.22Z"/>
<path d="M140.92 223.39V227.39L137.52 225.39Z"/>
<path d="M141.70 223.56V227.56L138.30 225.56Z"/>
<path d="M142.49 223.71V227.71L139.09 225.71Z"/>
<path d="M143.27 223.85V227.85L139.87 225.85Z"/>
<path d="M144.06 223.99V227.99L140.66 225.99Z"/>
<path d="M144.85 224.10V228.10L141.45 226.10Z"/>
<path d="M145.65 224.21V228.21L142.25 226.21Z"/>
<path d="M146.44 224.31V228.31L143.04 226.31Z"/>
<path d="M147.23 224.40V228.40L143.83 226.40Z"/>
<path d="M148.03 224.48V228.48L144.63 226.48Z"/>
<path d="M148.83 224.56V228.56L145.43 226.56Z"/>
<path d="M149.62 224.62V228.62L146.22 226.62Z"/>
<path d="M150.42 224.68V228.68L147.02 226.68Z"/>
<path d="M151.22 224.73V228.73L147.82 226.73Z"/>
<path d="M152.02 224.77V228.77L148.62 226.77Z"/>
<path d="M152.82 224.81V228.81L149.42 226.81Z"/>
<path d="M153.62 224.84V228.84L150.22 226.84Z"/>
<path d="M154.42 224.87V228.87L151.02 226.87Z"/>
<path d="M155.22 224.89V228.89L151.82 226.89Z"/>
<path d="M156.02 224.90V228.90L152.62 226.90Z"/>
<path d="M156.82 224.91V228.91L153.42 226.91Z"/>
<path d="M157.62 224.92V228.92L154.22 226.92Z"/>
<path d="M158.42 224.92V228.92L155.02 226.92Z"/>
<path d="M159.22 224.92V228.92L155.82 226.92Z"/>
<path d="M160.02 224.92V228.92L156.62 226.92Z"/>
<path d="M160.82 224.92V228.92L157.42 226.92Z"/>
<path d="M161.62 224.91V228.91L158.22 226.91Z"/>
<path d="M162.42 224.90V228.90L159.02 226.90Z"/>
<path d="M163.22 224.89V228.89L159.82 226.89Z"/>
<path d="M164.02 224.88V228.88L160.62 226.88Z"/>
<path d="M164.82 224.86V228.86L161.42 226.86Z"/>
<path d="M165.62 224.85V228.85L162.22 226.85Z"/>
<path d="M166.42 224.84V228.84L163.02 226.84Z"/>
<path d="M167.22 224.82V228.82L163.82 226.82Z"/>
<path d="M168.02 224.81V228.81L164.62 226.81Z"/>
<path d="M168.82 224.80V228.80L165.42 226.80Z"/>
<path d="M169.62 224.79V228.79L166.22 226.79Z"/>
<path d="M170.42 224.78V228.78L167.02 226.78Z"/>
<path d="M171.22 224.78V228.78L167.82 226.78Z"/>
<path d="M172.02 224.77V228.77L168.62 226.77Z"/>
<path d="M172.82 224.77V228.77L169.42 226.77Z"/>
<path d="M173.62 224.78V228.78L170.22 226.78Z"/>
<path d="M174.42 224.78V228.78L171.02 226.78Z"/>
<path d="M175.22 224.79V228.79L171.82 226.79Z"/>
<path d="M176.02 224.81V228.81L172.62 226.81Z"/>
<path d="M176.82 224.83V228.83L173.42 226.83Z"/>
<path d="M177.61 224.86V228.86L174.21 226.86Z"/>
<path d="M178.41 224.90V228.90L175.01 226.90Z"/>
<path d="M179.21 224.94V228.94L175.81 226.94Z"/>
<path d="M180.01 224.99V228.99L176.61 226.99Z"/>
<path d="M180.81 225.05V229.05L177.41 227.05Z"/>
<path d="M181.61 225.12V229.12L178.21 227.12Z"/>
<path d="M182.40 225.20V229.20L179.00 227.20Z"/>
<path d="M183.20 225.28V229.28L179.80 227.28Z"/>
<path d="M183.99 225.38V229.38L180.59 227.38Z"/>
<path d="M184.63 225.47V229.47L181.23 227.47Z"/>
</g>
</g>
<g fill="#000"><rect x="40.5" y="5.6" width="1" height="228.6"/><rect x="348.6" y="5.6" width="1" height="228.6"/><rect x="40.5" y="5.6" width="309.1" height="1"/><rect x="40.5" y="233.27" width="309.1" height="1.14"/></g>
<g font-size="12.6" fill="#000"><text x="41.00" y="251.3" text-anchor="middle">0.0</text><text x="88.38" y="251.3" text-anchor="middle">0.2</text><text x="135.77" y="251.3" text-anchor="middle">0.4</text><text x="183.15" y="251.3" text-anchor="middle">0.6</text><text x="230.54" y="251.3" text-anchor="middle">0.8</text><path d="M272.73 251.30 L273.87 251.30 L273.87 242.24 L273.14 242.24 L272.57 242.92 L271.69 243.74 L270.54 244.43 L270.54 245.48 L271.69 244.87 L272.73 244.18Z"/><text x="276.17" y="251.3">.0</text><path d="M320.12 251.30 L321.25 251.30 L321.25 242.24 L320.52 242.24 L319.95 242.92 L319.07 243.74 L317.92 244.43 L317.92 245.48 L319.07 244.87 L320.12 244.18Z"/><text x="323.56" y="251.3">.2</text><path d="M30.16 231.94 L31.29 231.94 L31.29 222.88 L30.56 222.88 L30.00 223.56 L29.11 224.38 L27.97 225.07 L27.97 226.12 L29.11 225.51 L30.16 224.82Z"/><text x="33.6" y="176.33" text-anchor="end">2</text><text x="33.6" y="120.72" text-anchor="end">3</text><text x="33.6" y="65.11" text-anchor="end">4</text><text x="33.6" y="9.50" text-anchor="end">5</text></g>
<g font-size="12" fill="#000"><path d="M250 21.30H277" stroke="#999" stroke-width="1"/><g fill="#fff" stroke="#000" stroke-width="0.9"><rect x="262.30" y="19.90" width="2.80" height="2.80"/></g><text x="282" y="25.60"><tspan font-style="italic">T</tspan> = 20 K</text><path d="M250 36.20H277" stroke="#f99" stroke-width="1"/><g fill="#fff" stroke="#f00" stroke-width="0.9"><circle cx="263.70" cy="36.20" r="1.70"/></g><text x="282" y="40.50"><tspan font-style="italic">T</tspan> = 25 K</text><path d="M250 51.10H277" stroke="#99f" stroke-width="1"/><g fill="#fff" stroke="#00f" stroke-width="0.9"><path d="M261.70 49.50H265.70L263.70 52.90Z"/></g><text x="282" y="55.40"><tspan font-style="italic">T</tspan> = 30 K</text><path d="M250 66.00H277" stroke="#ddd" stroke-width="1"/><g fill="#fff" stroke="#999" stroke-width="0.9"><path d="M263.70 64.00L265.70 66.00L263.70 68.00L261.70 66.00Z"/></g><text x="282" y="70.30"><tspan font-style="italic">T</tspan> = 32.5 K</text><path d="M250 80.90H277" stroke="#f9f" stroke-width="1"/><g fill="#fff" stroke="#f0f" stroke-width="0.9"><path d="M265.30 78.90V82.90L261.90 80.90Z"/></g><text x="282" y="85.20"><tspan font-style="italic">T</tspan> = 35 K</text></g>
<text transform="translate(11.8,185.8) rotate(-90)" font-size="15.5" fill="#000">Shielding factor</text>
<g fill="#000">
<text x="161.9" y="274.5" font-size="14">μ</text>
<text x="169.6" y="279.6" font-size="10.4">0</text>
<text x="175.1" y="274.5" font-size="14" font-style="italic">H</text>
<text x="186.5" y="279.6" font-size="10">appl</text>
<text x="208.2" y="274.5" font-size="14.8">(</text>
<text x="213.6" y="274.6" font-size="15.4">T</text>
<text x="224.3" y="274.5" font-size="14.8">)</text>
</g>
</svg>
</body></html>
